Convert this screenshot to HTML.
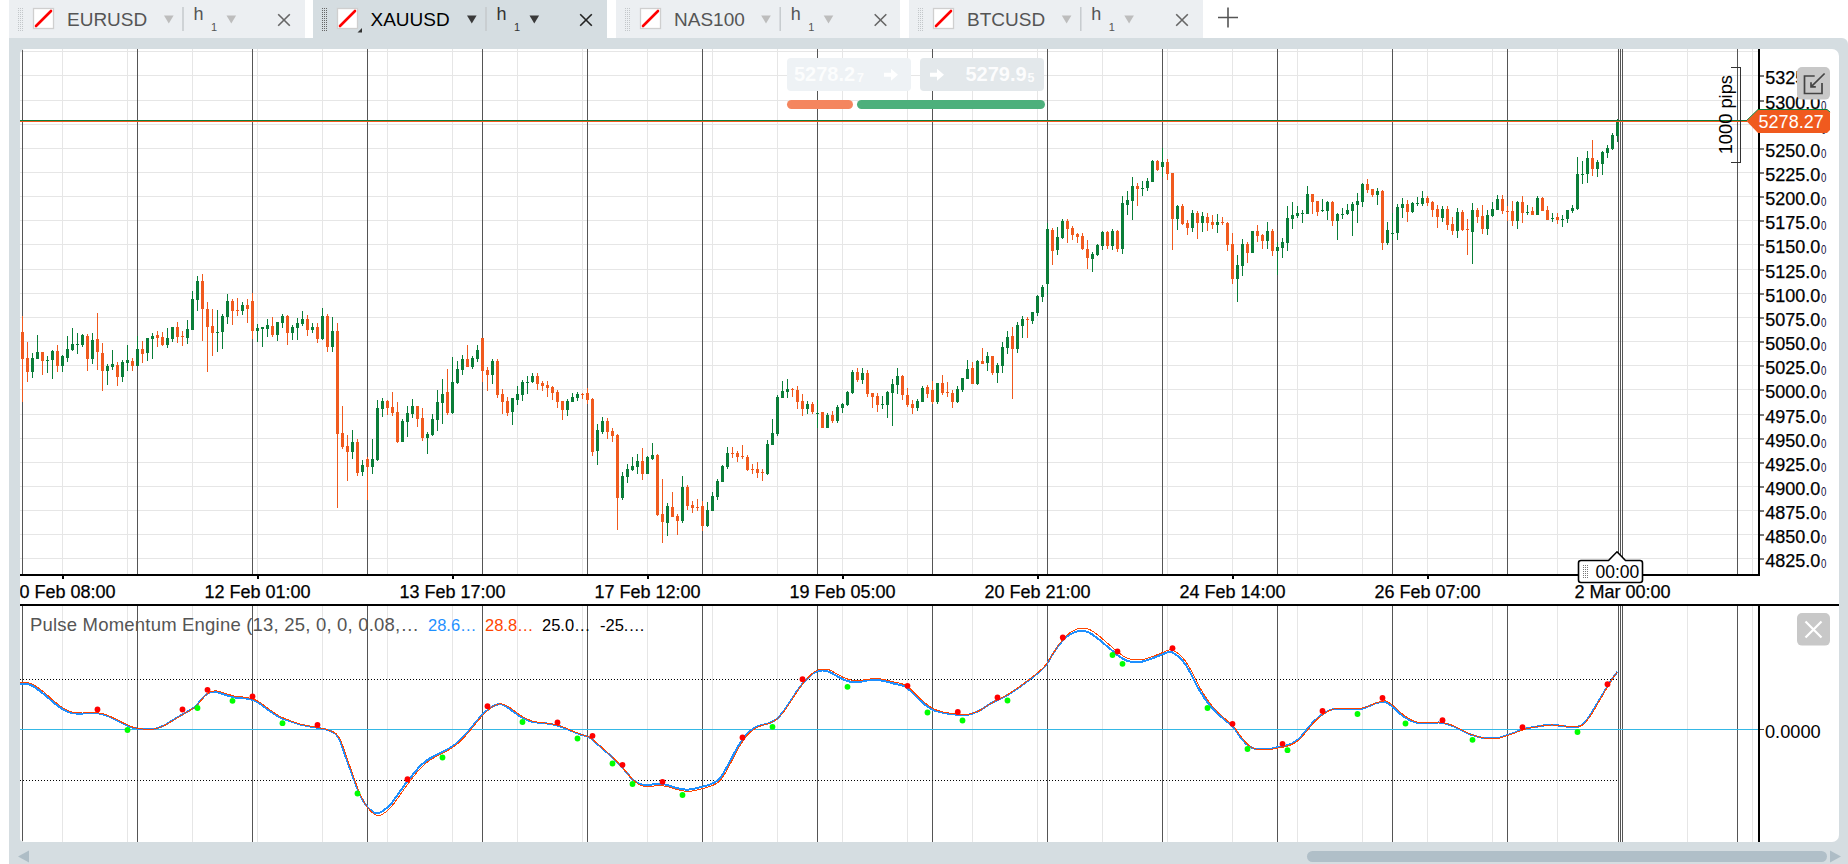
<!DOCTYPE html>
<html><head><meta charset="utf-8"><title>XAUUSD h1</title>
<style>
html,body{margin:0;padding:0;background:#fff;}
body{width:1848px;height:864px;position:relative;overflow:hidden;font-family:"Liberation Sans",sans-serif;}
.tab{position:absolute;top:0;height:38px;background:#eceff2;}
.tab.act{background:#d5dde1;}
.tab .t{position:absolute;top:7.5px;font-size:19px;line-height:24px;color:#555;white-space:nowrap;}
.tab.act .t{color:#000;}
.tab .h{position:absolute;top:3px;font-size:18px;line-height:22px;color:#555;}
.tab .s{position:absolute;top:19px;font-size:11px;line-height:14px;color:#555;}
.tab.act .h,.tab.act .s{color:#333;}
#wrap{position:absolute;left:9px;top:38px;width:1839px;height:826px;background:#d5dde1;border-top-right-radius:6px;}
#chart{position:absolute;left:20px;top:49px;width:1819px;height:793px;background:#fff;border-radius:5px 7px 7px 4px;}
svg{position:absolute;left:0;top:0;}
text{font-family:"Liberation Sans",sans-serif;}
</style></head><body>

<div id="wrap"></div><div id="chart"></div>
<div class="tab" style="left:9px;width:296px;"><span class="t" style="left:58px">EURUSD</span></div>
<div class="tab act" style="left:313px;width:294px;"><span class="t" style="left:57.5px">XAUUSD</span></div>
<div class="tab" style="left:616px;width:284px;"><span class="t" style="left:58px">NAS100</span></div>
<div class="tab" style="left:909px;width:294px;"><span class="t" style="left:58px">BTCUSD</span></div>
<svg width="1848" height="864" viewBox="0 0 1848 864">
<!--TABDECO-->
<rect x="18" y="8" width="1" height="1" fill="#c3c7ca"/><rect x="20" y="8" width="1" height="1" fill="#c3c7ca"/><rect x="22" y="8" width="1" height="1" fill="#c3c7ca"/><rect x="18" y="10" width="1" height="1" fill="#c3c7ca"/><rect x="20" y="10" width="1" height="1" fill="#c3c7ca"/><rect x="22" y="10" width="1" height="1" fill="#c3c7ca"/><rect x="18" y="12" width="1" height="1" fill="#c3c7ca"/><rect x="20" y="12" width="1" height="1" fill="#c3c7ca"/><rect x="22" y="12" width="1" height="1" fill="#c3c7ca"/><rect x="18" y="14" width="1" height="1" fill="#c3c7ca"/><rect x="20" y="14" width="1" height="1" fill="#c3c7ca"/><rect x="22" y="14" width="1" height="1" fill="#c3c7ca"/><rect x="18" y="16" width="1" height="1" fill="#c3c7ca"/><rect x="20" y="16" width="1" height="1" fill="#c3c7ca"/><rect x="22" y="16" width="1" height="1" fill="#c3c7ca"/><rect x="18" y="18" width="1" height="1" fill="#c3c7ca"/><rect x="20" y="18" width="1" height="1" fill="#c3c7ca"/><rect x="22" y="18" width="1" height="1" fill="#c3c7ca"/><rect x="18" y="20" width="1" height="1" fill="#c3c7ca"/><rect x="20" y="20" width="1" height="1" fill="#c3c7ca"/><rect x="22" y="20" width="1" height="1" fill="#c3c7ca"/><rect x="18" y="22" width="1" height="1" fill="#c3c7ca"/><rect x="20" y="22" width="1" height="1" fill="#c3c7ca"/><rect x="22" y="22" width="1" height="1" fill="#c3c7ca"/><rect x="18" y="24" width="1" height="1" fill="#c3c7ca"/><rect x="20" y="24" width="1" height="1" fill="#c3c7ca"/><rect x="22" y="24" width="1" height="1" fill="#c3c7ca"/><rect x="18" y="26" width="1" height="1" fill="#c3c7ca"/><rect x="20" y="26" width="1" height="1" fill="#c3c7ca"/><rect x="22" y="26" width="1" height="1" fill="#c3c7ca"/><rect x="18" y="28" width="1" height="1" fill="#c3c7ca"/><rect x="20" y="28" width="1" height="1" fill="#c3c7ca"/><rect x="22" y="28" width="1" height="1" fill="#c3c7ca"/><rect x="18" y="30" width="1" height="1" fill="#c3c7ca"/><rect x="20" y="30" width="1" height="1" fill="#c3c7ca"/><rect x="22" y="30" width="1" height="1" fill="#c3c7ca"/><rect x="33.5" y="8.5" width="20" height="20" fill="#fff" stroke="#cfcfcf" stroke-width="1.3"/><line x1="36" y1="26" x2="51" y2="11" stroke="#f00" stroke-width="2.6" stroke-linecap="round"/><path d="M164 15.5 h9.6 l-4.8 8z" fill="#bdbdbd"/><rect x="182.3" y="7" width="1.4" height="24" fill="#c4c8cb"/><path d="M226.5 15.5 h9.6 l-4.8 8z" fill="#bdbdbd"/><path d="M278.2 14.2 L289.8 25.8 M289.8 14.2 L278.2 25.8" stroke="#666" stroke-width="1.6" fill="none"/>
<text x="193.5" y="20" font-size="18" fill="#555">h</text>
<text x="211" y="31" font-size="11" fill="#555">1</text>
<rect x="322" y="8" width="1" height="1" fill="#666"/><rect x="324" y="8" width="1" height="1" fill="#666"/><rect x="326" y="8" width="1" height="1" fill="#666"/><rect x="322" y="10" width="1" height="1" fill="#666"/><rect x="324" y="10" width="1" height="1" fill="#666"/><rect x="326" y="10" width="1" height="1" fill="#666"/><rect x="322" y="12" width="1" height="1" fill="#666"/><rect x="324" y="12" width="1" height="1" fill="#666"/><rect x="326" y="12" width="1" height="1" fill="#666"/><rect x="322" y="14" width="1" height="1" fill="#666"/><rect x="324" y="14" width="1" height="1" fill="#666"/><rect x="326" y="14" width="1" height="1" fill="#666"/><rect x="322" y="16" width="1" height="1" fill="#666"/><rect x="324" y="16" width="1" height="1" fill="#666"/><rect x="326" y="16" width="1" height="1" fill="#666"/><rect x="322" y="18" width="1" height="1" fill="#666"/><rect x="324" y="18" width="1" height="1" fill="#666"/><rect x="326" y="18" width="1" height="1" fill="#666"/><rect x="322" y="20" width="1" height="1" fill="#666"/><rect x="324" y="20" width="1" height="1" fill="#666"/><rect x="326" y="20" width="1" height="1" fill="#666"/><rect x="322" y="22" width="1" height="1" fill="#666"/><rect x="324" y="22" width="1" height="1" fill="#666"/><rect x="326" y="22" width="1" height="1" fill="#666"/><rect x="322" y="24" width="1" height="1" fill="#666"/><rect x="324" y="24" width="1" height="1" fill="#666"/><rect x="326" y="24" width="1" height="1" fill="#666"/><rect x="322" y="26" width="1" height="1" fill="#666"/><rect x="324" y="26" width="1" height="1" fill="#666"/><rect x="326" y="26" width="1" height="1" fill="#666"/><rect x="322" y="28" width="1" height="1" fill="#666"/><rect x="324" y="28" width="1" height="1" fill="#666"/><rect x="326" y="28" width="1" height="1" fill="#666"/><rect x="322" y="30" width="1" height="1" fill="#666"/><rect x="324" y="30" width="1" height="1" fill="#666"/><rect x="326" y="30" width="1" height="1" fill="#666"/><rect x="337.5" y="8.5" width="20" height="20" fill="#fff" stroke="#cfcfcf" stroke-width="1.3"/><line x1="340" y1="26" x2="355" y2="11" stroke="#f00" stroke-width="2.6" stroke-linecap="round"/><path d="M362 32.5 v-4.5 l-4.5 4.5z" fill="#333"/><path d="M467 15.5 h9.6 l-4.8 8z" fill="#3a3a3a"/><rect x="485.3" y="7" width="1.4" height="24" fill="#c4c8cb"/><path d="M529.5 15.5 h9.6 l-4.8 8z" fill="#3a3a3a"/><path d="M580.2 14.2 L591.8 25.8 M591.8 14.2 L580.2 25.8" stroke="#222" stroke-width="1.6" fill="none"/>
<text x="496.5" y="20" font-size="18" fill="#333">h</text>
<text x="514" y="31" font-size="11" fill="#333">1</text>
<rect x="625" y="8" width="1" height="1" fill="#c3c7ca"/><rect x="627" y="8" width="1" height="1" fill="#c3c7ca"/><rect x="629" y="8" width="1" height="1" fill="#c3c7ca"/><rect x="625" y="10" width="1" height="1" fill="#c3c7ca"/><rect x="627" y="10" width="1" height="1" fill="#c3c7ca"/><rect x="629" y="10" width="1" height="1" fill="#c3c7ca"/><rect x="625" y="12" width="1" height="1" fill="#c3c7ca"/><rect x="627" y="12" width="1" height="1" fill="#c3c7ca"/><rect x="629" y="12" width="1" height="1" fill="#c3c7ca"/><rect x="625" y="14" width="1" height="1" fill="#c3c7ca"/><rect x="627" y="14" width="1" height="1" fill="#c3c7ca"/><rect x="629" y="14" width="1" height="1" fill="#c3c7ca"/><rect x="625" y="16" width="1" height="1" fill="#c3c7ca"/><rect x="627" y="16" width="1" height="1" fill="#c3c7ca"/><rect x="629" y="16" width="1" height="1" fill="#c3c7ca"/><rect x="625" y="18" width="1" height="1" fill="#c3c7ca"/><rect x="627" y="18" width="1" height="1" fill="#c3c7ca"/><rect x="629" y="18" width="1" height="1" fill="#c3c7ca"/><rect x="625" y="20" width="1" height="1" fill="#c3c7ca"/><rect x="627" y="20" width="1" height="1" fill="#c3c7ca"/><rect x="629" y="20" width="1" height="1" fill="#c3c7ca"/><rect x="625" y="22" width="1" height="1" fill="#c3c7ca"/><rect x="627" y="22" width="1" height="1" fill="#c3c7ca"/><rect x="629" y="22" width="1" height="1" fill="#c3c7ca"/><rect x="625" y="24" width="1" height="1" fill="#c3c7ca"/><rect x="627" y="24" width="1" height="1" fill="#c3c7ca"/><rect x="629" y="24" width="1" height="1" fill="#c3c7ca"/><rect x="625" y="26" width="1" height="1" fill="#c3c7ca"/><rect x="627" y="26" width="1" height="1" fill="#c3c7ca"/><rect x="629" y="26" width="1" height="1" fill="#c3c7ca"/><rect x="625" y="28" width="1" height="1" fill="#c3c7ca"/><rect x="627" y="28" width="1" height="1" fill="#c3c7ca"/><rect x="629" y="28" width="1" height="1" fill="#c3c7ca"/><rect x="625" y="30" width="1" height="1" fill="#c3c7ca"/><rect x="627" y="30" width="1" height="1" fill="#c3c7ca"/><rect x="629" y="30" width="1" height="1" fill="#c3c7ca"/><rect x="640.5" y="8.5" width="20" height="20" fill="#fff" stroke="#cfcfcf" stroke-width="1.3"/><line x1="643" y1="26" x2="658" y2="11" stroke="#f00" stroke-width="2.6" stroke-linecap="round"/><path d="M761.2 15.5 h9.6 l-4.8 8z" fill="#bdbdbd"/><rect x="779.5" y="7" width="1.4" height="24" fill="#c4c8cb"/><path d="M823.7 15.5 h9.6 l-4.8 8z" fill="#bdbdbd"/><path d="M874.7 14.2 L886.3 25.8 M886.3 14.2 L874.7 25.8" stroke="#666" stroke-width="1.6" fill="none"/>
<text x="790.7" y="20" font-size="18" fill="#555">h</text>
<text x="808.2" y="31" font-size="11" fill="#555">1</text>
<rect x="918" y="8" width="1" height="1" fill="#c3c7ca"/><rect x="920" y="8" width="1" height="1" fill="#c3c7ca"/><rect x="922" y="8" width="1" height="1" fill="#c3c7ca"/><rect x="918" y="10" width="1" height="1" fill="#c3c7ca"/><rect x="920" y="10" width="1" height="1" fill="#c3c7ca"/><rect x="922" y="10" width="1" height="1" fill="#c3c7ca"/><rect x="918" y="12" width="1" height="1" fill="#c3c7ca"/><rect x="920" y="12" width="1" height="1" fill="#c3c7ca"/><rect x="922" y="12" width="1" height="1" fill="#c3c7ca"/><rect x="918" y="14" width="1" height="1" fill="#c3c7ca"/><rect x="920" y="14" width="1" height="1" fill="#c3c7ca"/><rect x="922" y="14" width="1" height="1" fill="#c3c7ca"/><rect x="918" y="16" width="1" height="1" fill="#c3c7ca"/><rect x="920" y="16" width="1" height="1" fill="#c3c7ca"/><rect x="922" y="16" width="1" height="1" fill="#c3c7ca"/><rect x="918" y="18" width="1" height="1" fill="#c3c7ca"/><rect x="920" y="18" width="1" height="1" fill="#c3c7ca"/><rect x="922" y="18" width="1" height="1" fill="#c3c7ca"/><rect x="918" y="20" width="1" height="1" fill="#c3c7ca"/><rect x="920" y="20" width="1" height="1" fill="#c3c7ca"/><rect x="922" y="20" width="1" height="1" fill="#c3c7ca"/><rect x="918" y="22" width="1" height="1" fill="#c3c7ca"/><rect x="920" y="22" width="1" height="1" fill="#c3c7ca"/><rect x="922" y="22" width="1" height="1" fill="#c3c7ca"/><rect x="918" y="24" width="1" height="1" fill="#c3c7ca"/><rect x="920" y="24" width="1" height="1" fill="#c3c7ca"/><rect x="922" y="24" width="1" height="1" fill="#c3c7ca"/><rect x="918" y="26" width="1" height="1" fill="#c3c7ca"/><rect x="920" y="26" width="1" height="1" fill="#c3c7ca"/><rect x="922" y="26" width="1" height="1" fill="#c3c7ca"/><rect x="918" y="28" width="1" height="1" fill="#c3c7ca"/><rect x="920" y="28" width="1" height="1" fill="#c3c7ca"/><rect x="922" y="28" width="1" height="1" fill="#c3c7ca"/><rect x="918" y="30" width="1" height="1" fill="#c3c7ca"/><rect x="920" y="30" width="1" height="1" fill="#c3c7ca"/><rect x="922" y="30" width="1" height="1" fill="#c3c7ca"/><rect x="933.5" y="8.5" width="20" height="20" fill="#fff" stroke="#cfcfcf" stroke-width="1.3"/><line x1="936" y1="26" x2="951" y2="11" stroke="#f00" stroke-width="2.6" stroke-linecap="round"/><path d="M1061.8 15.5 h9.6 l-4.8 8z" fill="#bdbdbd"/><rect x="1080.1" y="7" width="1.4" height="24" fill="#c4c8cb"/><path d="M1124.3 15.5 h9.6 l-4.8 8z" fill="#bdbdbd"/><path d="M1176.2 14.2 L1187.8 25.8 M1187.8 14.2 L1176.2 25.8" stroke="#666" stroke-width="1.6" fill="none"/>
<text x="1091.3" y="20" font-size="18" fill="#555">h</text>
<text x="1108.8" y="31" font-size="11" fill="#555">1</text>
<path d="M1218 17.5 h20 M1228 7.5 v20" stroke="#555" stroke-width="1.6" fill="none"/>
<defs><clipPath id="cc"><rect x="20" y="49" width="1819" height="793" rx="5.5"/></clipPath></defs>
<g shape-rendering="crispEdges" clip-path="url(#cc)">
<line x1="20" x2="1758" y1="51.5" y2="51.5" stroke="#e6e6e6"/>
<line x1="20" x2="1758" y1="75.5" y2="75.5" stroke="#e6e6e6"/>
<line x1="20" x2="1758" y1="100.5" y2="100.5" stroke="#e6e6e6"/>
<line x1="20" x2="1758" y1="124.5" y2="124.5" stroke="#e6e6e6"/>
<line x1="20" x2="1758" y1="148.5" y2="148.5" stroke="#e6e6e6"/>
<line x1="20" x2="1758" y1="172.5" y2="172.5" stroke="#e6e6e6"/>
<line x1="20" x2="1758" y1="196.5" y2="196.5" stroke="#e6e6e6"/>
<line x1="20" x2="1758" y1="220.5" y2="220.5" stroke="#e6e6e6"/>
<line x1="20" x2="1758" y1="244.5" y2="244.5" stroke="#e6e6e6"/>
<line x1="20" x2="1758" y1="269.5" y2="269.5" stroke="#e6e6e6"/>
<line x1="20" x2="1758" y1="293.5" y2="293.5" stroke="#e6e6e6"/>
<line x1="20" x2="1758" y1="317.5" y2="317.5" stroke="#e6e6e6"/>
<line x1="20" x2="1758" y1="341.5" y2="341.5" stroke="#e6e6e6"/>
<line x1="20" x2="1758" y1="365.5" y2="365.5" stroke="#e6e6e6"/>
<line x1="20" x2="1758" y1="389.5" y2="389.5" stroke="#e6e6e6"/>
<line x1="20" x2="1758" y1="414.5" y2="414.5" stroke="#e6e6e6"/>
<line x1="20" x2="1758" y1="438.5" y2="438.5" stroke="#e6e6e6"/>
<line x1="20" x2="1758" y1="462.5" y2="462.5" stroke="#e6e6e6"/>
<line x1="20" x2="1758" y1="486.5" y2="486.5" stroke="#e6e6e6"/>
<line x1="20" x2="1758" y1="510.5" y2="510.5" stroke="#e6e6e6"/>
<line x1="20" x2="1758" y1="534.5" y2="534.5" stroke="#e6e6e6"/>
<line x1="20" x2="1758" y1="558.5" y2="558.5" stroke="#e6e6e6"/>
<line x1="62.5" x2="62.5" y1="49" y2="574" stroke="#e6e6e6"/>
<line x1="62.5" x2="62.5" y1="606" y2="842" stroke="#e6e6e6"/>
<line x1="127.5" x2="127.5" y1="49" y2="574" stroke="#e6e6e6"/>
<line x1="127.5" x2="127.5" y1="606" y2="842" stroke="#e6e6e6"/>
<line x1="192.5" x2="192.5" y1="49" y2="574" stroke="#e6e6e6"/>
<line x1="192.5" x2="192.5" y1="606" y2="842" stroke="#e6e6e6"/>
<line x1="257.5" x2="257.5" y1="49" y2="574" stroke="#e6e6e6"/>
<line x1="257.5" x2="257.5" y1="606" y2="842" stroke="#e6e6e6"/>
<line x1="322.5" x2="322.5" y1="49" y2="574" stroke="#e6e6e6"/>
<line x1="322.5" x2="322.5" y1="606" y2="842" stroke="#e6e6e6"/>
<line x1="387.5" x2="387.5" y1="49" y2="574" stroke="#e6e6e6"/>
<line x1="387.5" x2="387.5" y1="606" y2="842" stroke="#e6e6e6"/>
<line x1="452.5" x2="452.5" y1="49" y2="574" stroke="#e6e6e6"/>
<line x1="452.5" x2="452.5" y1="606" y2="842" stroke="#e6e6e6"/>
<line x1="517.5" x2="517.5" y1="49" y2="574" stroke="#e6e6e6"/>
<line x1="517.5" x2="517.5" y1="606" y2="842" stroke="#e6e6e6"/>
<line x1="582.5" x2="582.5" y1="49" y2="574" stroke="#e6e6e6"/>
<line x1="582.5" x2="582.5" y1="606" y2="842" stroke="#e6e6e6"/>
<line x1="647.5" x2="647.5" y1="49" y2="574" stroke="#e6e6e6"/>
<line x1="647.5" x2="647.5" y1="606" y2="842" stroke="#e6e6e6"/>
<line x1="712.5" x2="712.5" y1="49" y2="574" stroke="#e6e6e6"/>
<line x1="712.5" x2="712.5" y1="606" y2="842" stroke="#e6e6e6"/>
<line x1="777.5" x2="777.5" y1="49" y2="574" stroke="#e6e6e6"/>
<line x1="777.5" x2="777.5" y1="606" y2="842" stroke="#e6e6e6"/>
<line x1="842.5" x2="842.5" y1="49" y2="574" stroke="#e6e6e6"/>
<line x1="842.5" x2="842.5" y1="606" y2="842" stroke="#e6e6e6"/>
<line x1="907.5" x2="907.5" y1="49" y2="574" stroke="#e6e6e6"/>
<line x1="907.5" x2="907.5" y1="606" y2="842" stroke="#e6e6e6"/>
<line x1="972.5" x2="972.5" y1="49" y2="574" stroke="#e6e6e6"/>
<line x1="972.5" x2="972.5" y1="606" y2="842" stroke="#e6e6e6"/>
<line x1="1037.5" x2="1037.5" y1="49" y2="574" stroke="#e6e6e6"/>
<line x1="1037.5" x2="1037.5" y1="606" y2="842" stroke="#e6e6e6"/>
<line x1="1102.5" x2="1102.5" y1="49" y2="574" stroke="#e6e6e6"/>
<line x1="1102.5" x2="1102.5" y1="606" y2="842" stroke="#e6e6e6"/>
<line x1="1167.5" x2="1167.5" y1="49" y2="574" stroke="#e6e6e6"/>
<line x1="1167.5" x2="1167.5" y1="606" y2="842" stroke="#e6e6e6"/>
<line x1="1232.5" x2="1232.5" y1="49" y2="574" stroke="#e6e6e6"/>
<line x1="1232.5" x2="1232.5" y1="606" y2="842" stroke="#e6e6e6"/>
<line x1="1297.5" x2="1297.5" y1="49" y2="574" stroke="#e6e6e6"/>
<line x1="1297.5" x2="1297.5" y1="606" y2="842" stroke="#e6e6e6"/>
<line x1="1362.5" x2="1362.5" y1="49" y2="574" stroke="#e6e6e6"/>
<line x1="1362.5" x2="1362.5" y1="606" y2="842" stroke="#e6e6e6"/>
<line x1="1427.5" x2="1427.5" y1="49" y2="574" stroke="#e6e6e6"/>
<line x1="1427.5" x2="1427.5" y1="606" y2="842" stroke="#e6e6e6"/>
<line x1="1492.5" x2="1492.5" y1="49" y2="574" stroke="#e6e6e6"/>
<line x1="1492.5" x2="1492.5" y1="606" y2="842" stroke="#e6e6e6"/>
<line x1="1557.5" x2="1557.5" y1="49" y2="574" stroke="#e6e6e6"/>
<line x1="1557.5" x2="1557.5" y1="606" y2="842" stroke="#e6e6e6"/>
<line x1="1622.5" x2="1622.5" y1="49" y2="574" stroke="#e6e6e6"/>
<line x1="1622.5" x2="1622.5" y1="606" y2="842" stroke="#e6e6e6"/>
<line x1="1687.5" x2="1687.5" y1="49" y2="574" stroke="#e6e6e6"/>
<line x1="1687.5" x2="1687.5" y1="606" y2="842" stroke="#e6e6e6"/>
<line x1="1752.5" x2="1752.5" y1="49" y2="574" stroke="#e6e6e6"/>
<line x1="1752.5" x2="1752.5" y1="606" y2="842" stroke="#e6e6e6"/>
<line x1="22.5" x2="22.5" y1="49" y2="574" stroke="#555555"/>
<line x1="22.5" x2="22.5" y1="606" y2="842" stroke="#555555"/>
<line x1="137.5" x2="137.5" y1="49" y2="574" stroke="#555555"/>
<line x1="137.5" x2="137.5" y1="606" y2="842" stroke="#555555"/>
<line x1="252.5" x2="252.5" y1="49" y2="574" stroke="#555555"/>
<line x1="252.5" x2="252.5" y1="606" y2="842" stroke="#555555"/>
<line x1="367.5" x2="367.5" y1="49" y2="574" stroke="#555555"/>
<line x1="367.5" x2="367.5" y1="606" y2="842" stroke="#555555"/>
<line x1="482.5" x2="482.5" y1="49" y2="574" stroke="#555555"/>
<line x1="482.5" x2="482.5" y1="606" y2="842" stroke="#555555"/>
<line x1="587.5" x2="587.5" y1="49" y2="574" stroke="#555555"/>
<line x1="587.5" x2="587.5" y1="606" y2="842" stroke="#555555"/>
<line x1="702.5" x2="702.5" y1="49" y2="574" stroke="#555555"/>
<line x1="702.5" x2="702.5" y1="606" y2="842" stroke="#555555"/>
<line x1="817.5" x2="817.5" y1="49" y2="574" stroke="#555555"/>
<line x1="817.5" x2="817.5" y1="606" y2="842" stroke="#555555"/>
<line x1="932.5" x2="932.5" y1="49" y2="574" stroke="#555555"/>
<line x1="932.5" x2="932.5" y1="606" y2="842" stroke="#555555"/>
<line x1="1047.5" x2="1047.5" y1="49" y2="574" stroke="#555555"/>
<line x1="1047.5" x2="1047.5" y1="606" y2="842" stroke="#555555"/>
<line x1="1162.5" x2="1162.5" y1="49" y2="574" stroke="#555555"/>
<line x1="1162.5" x2="1162.5" y1="606" y2="842" stroke="#555555"/>
<line x1="1277.5" x2="1277.5" y1="49" y2="574" stroke="#555555"/>
<line x1="1277.5" x2="1277.5" y1="606" y2="842" stroke="#555555"/>
<line x1="1392.5" x2="1392.5" y1="49" y2="574" stroke="#555555"/>
<line x1="1392.5" x2="1392.5" y1="606" y2="842" stroke="#555555"/>
<line x1="1507.5" x2="1507.5" y1="49" y2="574" stroke="#555555"/>
<line x1="1507.5" x2="1507.5" y1="606" y2="842" stroke="#555555"/>
<line x1="1737.5" x2="1737.5" y1="49" y2="574" stroke="#555555"/>
<line x1="1737.5" x2="1737.5" y1="606" y2="842" stroke="#555555"/>
<line x1="1618.5" x2="1618.5" y1="49" y2="574" stroke="#555555"/>
<line x1="1618.5" x2="1618.5" y1="606" y2="842" stroke="#555555"/>
<line x1="1620.5" x2="1620.5" y1="49" y2="574" stroke="#555555"/>
<line x1="1620.5" x2="1620.5" y1="606" y2="842" stroke="#555555"/>
<line x1="1622.5" x2="1622.5" y1="49" y2="574" stroke="#555555"/>
<line x1="1622.5" x2="1622.5" y1="606" y2="842" stroke="#555555"/>
<rect x="1760" y="75" width="3.5" height="1.5" fill="#777"/>
<rect x="1760" y="100" width="3.5" height="1.5" fill="#777"/>
<rect x="1760" y="124" width="3.5" height="1.5" fill="#777"/>
<rect x="1760" y="148" width="3.5" height="1.5" fill="#777"/>
<rect x="1760" y="172" width="3.5" height="1.5" fill="#777"/>
<rect x="1760" y="196" width="3.5" height="1.5" fill="#777"/>
<rect x="1760" y="220" width="3.5" height="1.5" fill="#777"/>
<rect x="1760" y="244" width="3.5" height="1.5" fill="#777"/>
<rect x="1760" y="269" width="3.5" height="1.5" fill="#777"/>
<rect x="1760" y="293" width="3.5" height="1.5" fill="#777"/>
<rect x="1760" y="317" width="3.5" height="1.5" fill="#777"/>
<rect x="1760" y="341" width="3.5" height="1.5" fill="#777"/>
<rect x="1760" y="365" width="3.5" height="1.5" fill="#777"/>
<rect x="1760" y="389" width="3.5" height="1.5" fill="#777"/>
<rect x="1760" y="414" width="3.5" height="1.5" fill="#777"/>
<rect x="1760" y="438" width="3.5" height="1.5" fill="#777"/>
<rect x="1760" y="462" width="3.5" height="1.5" fill="#777"/>
<rect x="1760" y="486" width="3.5" height="1.5" fill="#777"/>
<rect x="1760" y="510" width="3.5" height="1.5" fill="#777"/>
<rect x="1760" y="534" width="3.5" height="1.5" fill="#777"/>
<rect x="1760" y="558" width="3.5" height="1.5" fill="#777"/>
<line x1="20" x2="1617" y1="679.5" y2="679.5" stroke="#000" stroke-dasharray="1 2"/>
<line x1="20" x2="1617" y1="780.5" y2="780.5" stroke="#000" stroke-dasharray="1 2"/>
<line x1="20" x2="1758" y1="729.5" y2="729.5" stroke="#35b8e6"/>
<line x1="1760" x2="1764" y1="729.5" y2="729.5" stroke="#444"/>
<rect x="22" y="316" width="1" height="86" fill="#f05a1e"/>
<rect x="21" y="332" width="3" height="27" fill="#f05a1e"/>
<rect x="27" y="342" width="1" height="40" fill="#f05a1e"/>
<rect x="26" y="358" width="3" height="14" fill="#f05a1e"/>
<rect x="32" y="353" width="1" height="25" fill="#0a7d38"/>
<rect x="31" y="358" width="3" height="14" fill="#0a7d38"/>
<rect x="37" y="335" width="1" height="24" fill="#0a7d38"/>
<rect x="36" y="352" width="3" height="7" fill="#0a7d38"/>
<rect x="42" y="352" width="1" height="23" fill="#f05a1e"/>
<rect x="41" y="352" width="3" height="9" fill="#f05a1e"/>
<rect x="47" y="356" width="1" height="17" fill="#0a7d38"/>
<rect x="46" y="360" width="3" height="1" fill="#0a7d38"/>
<rect x="52" y="350" width="1" height="29" fill="#0a7d38"/>
<rect x="51" y="351" width="3" height="9" fill="#0a7d38"/>
<rect x="57" y="345" width="1" height="27" fill="#f05a1e"/>
<rect x="56" y="351" width="3" height="15" fill="#f05a1e"/>
<rect x="62" y="355" width="1" height="17" fill="#0a7d38"/>
<rect x="61" y="356" width="3" height="10" fill="#0a7d38"/>
<rect x="67" y="336" width="1" height="26" fill="#0a7d38"/>
<rect x="66" y="349" width="3" height="9" fill="#0a7d38"/>
<rect x="72" y="328" width="1" height="23" fill="#0a7d38"/>
<rect x="71" y="344" width="3" height="6" fill="#0a7d38"/>
<rect x="77" y="333" width="1" height="21" fill="#0a7d38"/>
<rect x="76" y="344" width="3" height="1" fill="#0a7d38"/>
<rect x="82" y="334" width="1" height="13" fill="#0a7d38"/>
<rect x="81" y="335" width="3" height="10" fill="#0a7d38"/>
<rect x="87" y="334" width="1" height="37" fill="#f05a1e"/>
<rect x="86" y="336" width="3" height="23" fill="#f05a1e"/>
<rect x="92" y="333" width="1" height="31" fill="#0a7d38"/>
<rect x="91" y="340" width="3" height="19" fill="#0a7d38"/>
<rect x="97" y="313" width="1" height="57" fill="#f05a1e"/>
<rect x="96" y="339" width="3" height="13" fill="#f05a1e"/>
<rect x="102" y="343" width="1" height="48" fill="#f05a1e"/>
<rect x="101" y="353" width="3" height="18" fill="#f05a1e"/>
<rect x="107" y="364" width="1" height="21" fill="#0a7d38"/>
<rect x="106" y="366" width="3" height="5" fill="#0a7d38"/>
<rect x="112" y="350" width="1" height="20" fill="#0a7d38"/>
<rect x="111" y="364" width="3" height="3" fill="#0a7d38"/>
<rect x="117" y="362" width="1" height="24" fill="#f05a1e"/>
<rect x="116" y="365" width="3" height="12" fill="#f05a1e"/>
<rect x="122" y="360" width="1" height="22" fill="#0a7d38"/>
<rect x="121" y="362" width="3" height="15" fill="#0a7d38"/>
<rect x="127" y="345" width="1" height="26" fill="#0a7d38"/>
<rect x="126" y="360" width="3" height="3" fill="#0a7d38"/>
<rect x="132" y="358" width="1" height="13" fill="#f05a1e"/>
<rect x="131" y="361" width="3" height="5" fill="#f05a1e"/>
<rect x="137" y="336" width="1" height="30" fill="#0a7d38"/>
<rect x="136" y="349" width="3" height="17" fill="#0a7d38"/>
<rect x="142" y="341" width="1" height="22" fill="#f05a1e"/>
<rect x="141" y="349" width="3" height="5" fill="#f05a1e"/>
<rect x="147" y="338" width="1" height="23" fill="#0a7d38"/>
<rect x="146" y="338" width="3" height="15" fill="#0a7d38"/>
<rect x="152" y="333" width="1" height="26" fill="#0a7d38"/>
<rect x="151" y="336" width="3" height="3" fill="#0a7d38"/>
<rect x="157" y="331" width="1" height="16" fill="#f05a1e"/>
<rect x="156" y="335" width="3" height="3" fill="#f05a1e"/>
<rect x="162" y="332" width="1" height="14" fill="#f05a1e"/>
<rect x="161" y="337" width="3" height="8" fill="#f05a1e"/>
<rect x="167" y="328" width="1" height="20" fill="#0a7d38"/>
<rect x="166" y="338" width="3" height="7" fill="#0a7d38"/>
<rect x="172" y="327" width="1" height="15" fill="#0a7d38"/>
<rect x="171" y="327" width="3" height="12" fill="#0a7d38"/>
<rect x="177" y="322" width="1" height="21" fill="#f05a1e"/>
<rect x="176" y="327" width="3" height="10" fill="#f05a1e"/>
<rect x="182" y="331" width="1" height="15" fill="#f05a1e"/>
<rect x="181" y="336" width="3" height="1" fill="#f05a1e"/>
<rect x="187" y="320" width="1" height="24" fill="#0a7d38"/>
<rect x="186" y="329" width="3" height="9" fill="#0a7d38"/>
<rect x="192" y="291" width="1" height="39" fill="#0a7d38"/>
<rect x="191" y="299" width="3" height="31" fill="#0a7d38"/>
<rect x="197" y="276" width="1" height="35" fill="#0a7d38"/>
<rect x="196" y="281" width="3" height="19" fill="#0a7d38"/>
<rect x="202" y="274" width="1" height="67" fill="#f05a1e"/>
<rect x="201" y="281" width="3" height="28" fill="#f05a1e"/>
<rect x="207" y="302" width="1" height="70" fill="#f05a1e"/>
<rect x="206" y="309" width="3" height="18" fill="#f05a1e"/>
<rect x="212" y="309" width="1" height="47" fill="#f05a1e"/>
<rect x="211" y="326" width="3" height="7" fill="#f05a1e"/>
<rect x="217" y="310" width="1" height="42" fill="#0a7d38"/>
<rect x="216" y="332" width="3" height="1" fill="#0a7d38"/>
<rect x="222" y="314" width="1" height="35" fill="#0a7d38"/>
<rect x="221" y="316" width="3" height="16" fill="#0a7d38"/>
<rect x="227" y="294" width="1" height="30" fill="#0a7d38"/>
<rect x="226" y="301" width="3" height="16" fill="#0a7d38"/>
<rect x="232" y="299" width="1" height="26" fill="#f05a1e"/>
<rect x="231" y="301" width="3" height="10" fill="#f05a1e"/>
<rect x="237" y="298" width="1" height="18" fill="#f05a1e"/>
<rect x="236" y="310" width="3" height="1" fill="#f05a1e"/>
<rect x="242" y="302" width="1" height="13" fill="#0a7d38"/>
<rect x="241" y="305" width="3" height="6" fill="#0a7d38"/>
<rect x="247" y="299" width="1" height="24" fill="#f05a1e"/>
<rect x="246" y="305" width="3" height="4" fill="#f05a1e"/>
<rect x="252" y="293" width="1" height="46" fill="#f05a1e"/>
<rect x="251" y="301" width="3" height="30" fill="#f05a1e"/>
<rect x="257" y="324" width="1" height="18" fill="#0a7d38"/>
<rect x="256" y="328" width="3" height="3" fill="#0a7d38"/>
<rect x="262" y="327" width="1" height="20" fill="#0a7d38"/>
<rect x="261" y="327" width="3" height="2" fill="#0a7d38"/>
<rect x="267" y="319" width="1" height="18" fill="#0a7d38"/>
<rect x="266" y="325" width="3" height="4" fill="#0a7d38"/>
<rect x="272" y="317" width="1" height="20" fill="#f05a1e"/>
<rect x="271" y="326" width="3" height="9" fill="#f05a1e"/>
<rect x="277" y="322" width="1" height="19" fill="#0a7d38"/>
<rect x="276" y="322" width="3" height="13" fill="#0a7d38"/>
<rect x="282" y="314" width="1" height="14" fill="#0a7d38"/>
<rect x="281" y="316" width="3" height="7" fill="#0a7d38"/>
<rect x="287" y="315" width="1" height="30" fill="#f05a1e"/>
<rect x="286" y="316" width="3" height="17" fill="#f05a1e"/>
<rect x="292" y="325" width="1" height="15" fill="#0a7d38"/>
<rect x="291" y="327" width="3" height="6" fill="#0a7d38"/>
<rect x="297" y="318" width="1" height="22" fill="#0a7d38"/>
<rect x="296" y="323" width="3" height="5" fill="#0a7d38"/>
<rect x="302" y="311" width="1" height="15" fill="#0a7d38"/>
<rect x="301" y="319" width="3" height="5" fill="#0a7d38"/>
<rect x="307" y="315" width="1" height="21" fill="#f05a1e"/>
<rect x="306" y="319" width="3" height="11" fill="#f05a1e"/>
<rect x="312" y="323" width="1" height="10" fill="#0a7d38"/>
<rect x="311" y="327" width="3" height="3" fill="#0a7d38"/>
<rect x="317" y="323" width="1" height="20" fill="#f05a1e"/>
<rect x="316" y="327" width="3" height="12" fill="#f05a1e"/>
<rect x="322" y="308" width="1" height="32" fill="#0a7d38"/>
<rect x="321" y="316" width="3" height="23" fill="#0a7d38"/>
<rect x="327" y="314" width="1" height="38" fill="#f05a1e"/>
<rect x="326" y="316" width="3" height="31" fill="#f05a1e"/>
<rect x="332" y="317" width="1" height="35" fill="#0a7d38"/>
<rect x="331" y="331" width="3" height="16" fill="#0a7d38"/>
<rect x="337" y="323" width="1" height="185" fill="#f05a1e"/>
<rect x="336" y="331" width="3" height="103" fill="#f05a1e"/>
<rect x="342" y="406" width="1" height="43" fill="#f05a1e"/>
<rect x="341" y="433" width="3" height="14" fill="#f05a1e"/>
<rect x="347" y="435" width="1" height="46" fill="#f05a1e"/>
<rect x="346" y="446" width="3" height="6" fill="#f05a1e"/>
<rect x="352" y="430" width="1" height="29" fill="#0a7d38"/>
<rect x="351" y="442" width="3" height="10" fill="#0a7d38"/>
<rect x="357" y="439" width="1" height="37" fill="#f05a1e"/>
<rect x="356" y="442" width="3" height="31" fill="#f05a1e"/>
<rect x="362" y="460" width="1" height="16" fill="#0a7d38"/>
<rect x="361" y="465" width="3" height="7" fill="#0a7d38"/>
<rect x="367" y="457" width="1" height="43" fill="#f05a1e"/>
<rect x="366" y="459" width="3" height="8" fill="#f05a1e"/>
<rect x="372" y="439" width="1" height="35" fill="#0a7d38"/>
<rect x="371" y="459" width="3" height="8" fill="#0a7d38"/>
<rect x="377" y="400" width="1" height="61" fill="#0a7d38"/>
<rect x="376" y="408" width="3" height="52" fill="#0a7d38"/>
<rect x="382" y="398" width="1" height="19" fill="#0a7d38"/>
<rect x="381" y="401" width="3" height="8" fill="#0a7d38"/>
<rect x="387" y="400" width="1" height="15" fill="#f05a1e"/>
<rect x="386" y="401" width="3" height="7" fill="#f05a1e"/>
<rect x="392" y="392" width="1" height="24" fill="#f05a1e"/>
<rect x="391" y="407" width="3" height="6" fill="#f05a1e"/>
<rect x="397" y="402" width="1" height="41" fill="#f05a1e"/>
<rect x="396" y="412" width="3" height="30" fill="#f05a1e"/>
<rect x="402" y="419" width="1" height="23" fill="#0a7d38"/>
<rect x="401" y="421" width="3" height="21" fill="#0a7d38"/>
<rect x="407" y="406" width="1" height="31" fill="#0a7d38"/>
<rect x="406" y="413" width="3" height="9" fill="#0a7d38"/>
<rect x="412" y="399" width="1" height="19" fill="#0a7d38"/>
<rect x="411" y="406" width="3" height="8" fill="#0a7d38"/>
<rect x="417" y="406" width="1" height="21" fill="#f05a1e"/>
<rect x="416" y="406" width="3" height="13" fill="#f05a1e"/>
<rect x="422" y="408" width="1" height="33" fill="#f05a1e"/>
<rect x="421" y="418" width="3" height="20" fill="#f05a1e"/>
<rect x="427" y="432" width="1" height="22" fill="#0a7d38"/>
<rect x="426" y="434" width="3" height="4" fill="#0a7d38"/>
<rect x="432" y="414" width="1" height="22" fill="#0a7d38"/>
<rect x="431" y="419" width="3" height="16" fill="#0a7d38"/>
<rect x="437" y="390" width="1" height="41" fill="#0a7d38"/>
<rect x="436" y="402" width="3" height="18" fill="#0a7d38"/>
<rect x="442" y="379" width="1" height="45" fill="#0a7d38"/>
<rect x="441" y="394" width="3" height="9" fill="#0a7d38"/>
<rect x="447" y="369" width="1" height="46" fill="#f05a1e"/>
<rect x="446" y="392" width="3" height="21" fill="#f05a1e"/>
<rect x="452" y="357" width="1" height="57" fill="#0a7d38"/>
<rect x="451" y="382" width="3" height="31" fill="#0a7d38"/>
<rect x="457" y="361" width="1" height="23" fill="#0a7d38"/>
<rect x="456" y="369" width="3" height="14" fill="#0a7d38"/>
<rect x="462" y="355" width="1" height="20" fill="#0a7d38"/>
<rect x="461" y="359" width="3" height="11" fill="#0a7d38"/>
<rect x="467" y="345" width="1" height="22" fill="#f05a1e"/>
<rect x="466" y="359" width="3" height="8" fill="#f05a1e"/>
<rect x="472" y="356" width="1" height="13" fill="#0a7d38"/>
<rect x="471" y="358" width="3" height="9" fill="#0a7d38"/>
<rect x="477" y="345" width="1" height="17" fill="#0a7d38"/>
<rect x="476" y="350" width="3" height="9" fill="#0a7d38"/>
<rect x="482" y="338" width="1" height="44" fill="#f05a1e"/>
<rect x="481" y="338" width="3" height="33" fill="#f05a1e"/>
<rect x="487" y="367" width="1" height="24" fill="#f05a1e"/>
<rect x="486" y="370" width="3" height="5" fill="#f05a1e"/>
<rect x="492" y="359" width="1" height="25" fill="#0a7d38"/>
<rect x="491" y="361" width="3" height="14" fill="#0a7d38"/>
<rect x="497" y="359" width="1" height="39" fill="#f05a1e"/>
<rect x="496" y="361" width="3" height="34" fill="#f05a1e"/>
<rect x="502" y="389" width="1" height="25" fill="#f05a1e"/>
<rect x="501" y="394" width="3" height="8" fill="#f05a1e"/>
<rect x="507" y="397" width="1" height="19" fill="#f05a1e"/>
<rect x="506" y="401" width="3" height="12" fill="#f05a1e"/>
<rect x="512" y="398" width="1" height="27" fill="#0a7d38"/>
<rect x="511" y="398" width="3" height="14" fill="#0a7d38"/>
<rect x="517" y="386" width="1" height="19" fill="#0a7d38"/>
<rect x="516" y="394" width="3" height="6" fill="#0a7d38"/>
<rect x="522" y="380" width="1" height="21" fill="#0a7d38"/>
<rect x="521" y="382" width="3" height="13" fill="#0a7d38"/>
<rect x="527" y="376" width="1" height="18" fill="#0a7d38"/>
<rect x="526" y="382" width="3" height="1" fill="#0a7d38"/>
<rect x="532" y="373" width="1" height="10" fill="#0a7d38"/>
<rect x="531" y="376" width="3" height="6" fill="#0a7d38"/>
<rect x="537" y="373" width="1" height="17" fill="#f05a1e"/>
<rect x="536" y="376" width="3" height="8" fill="#f05a1e"/>
<rect x="542" y="381" width="1" height="10" fill="#f05a1e"/>
<rect x="541" y="383" width="3" height="3" fill="#f05a1e"/>
<rect x="547" y="381" width="1" height="16" fill="#f05a1e"/>
<rect x="546" y="385" width="3" height="3" fill="#f05a1e"/>
<rect x="552" y="386" width="1" height="14" fill="#f05a1e"/>
<rect x="551" y="387" width="3" height="6" fill="#f05a1e"/>
<rect x="557" y="390" width="1" height="18" fill="#f05a1e"/>
<rect x="556" y="392" width="3" height="10" fill="#f05a1e"/>
<rect x="562" y="401" width="1" height="19" fill="#f05a1e"/>
<rect x="561" y="401" width="3" height="9" fill="#f05a1e"/>
<rect x="567" y="399" width="1" height="17" fill="#0a7d38"/>
<rect x="566" y="401" width="3" height="9" fill="#0a7d38"/>
<rect x="572" y="393" width="1" height="9" fill="#0a7d38"/>
<rect x="571" y="397" width="3" height="5" fill="#0a7d38"/>
<rect x="577" y="392" width="1" height="9" fill="#0a7d38"/>
<rect x="576" y="394" width="3" height="4" fill="#0a7d38"/>
<rect x="582" y="393" width="1" height="6" fill="#f05a1e"/>
<rect x="581" y="394" width="3" height="1" fill="#f05a1e"/>
<rect x="587" y="388" width="1" height="16" fill="#f05a1e"/>
<rect x="586" y="393" width="3" height="7" fill="#f05a1e"/>
<rect x="592" y="398" width="1" height="58" fill="#f05a1e"/>
<rect x="591" y="399" width="3" height="53" fill="#f05a1e"/>
<rect x="597" y="424" width="1" height="41" fill="#0a7d38"/>
<rect x="596" y="430" width="3" height="21" fill="#0a7d38"/>
<rect x="602" y="417" width="1" height="17" fill="#0a7d38"/>
<rect x="601" y="421" width="3" height="11" fill="#0a7d38"/>
<rect x="607" y="418" width="1" height="21" fill="#f05a1e"/>
<rect x="606" y="421" width="3" height="11" fill="#f05a1e"/>
<rect x="612" y="428" width="1" height="14" fill="#f05a1e"/>
<rect x="611" y="431" width="3" height="5" fill="#f05a1e"/>
<rect x="617" y="434" width="1" height="96" fill="#f05a1e"/>
<rect x="616" y="435" width="3" height="63" fill="#f05a1e"/>
<rect x="622" y="472" width="1" height="28" fill="#0a7d38"/>
<rect x="621" y="476" width="3" height="22" fill="#0a7d38"/>
<rect x="627" y="464" width="1" height="19" fill="#0a7d38"/>
<rect x="626" y="469" width="3" height="8" fill="#0a7d38"/>
<rect x="632" y="457" width="1" height="14" fill="#0a7d38"/>
<rect x="631" y="466" width="3" height="4" fill="#0a7d38"/>
<rect x="637" y="454" width="1" height="20" fill="#0a7d38"/>
<rect x="636" y="461" width="3" height="6" fill="#0a7d38"/>
<rect x="642" y="448" width="1" height="32" fill="#f05a1e"/>
<rect x="641" y="461" width="3" height="13" fill="#f05a1e"/>
<rect x="647" y="456" width="1" height="18" fill="#0a7d38"/>
<rect x="646" y="457" width="3" height="17" fill="#0a7d38"/>
<rect x="652" y="443" width="1" height="17" fill="#0a7d38"/>
<rect x="651" y="455" width="3" height="4" fill="#0a7d38"/>
<rect x="657" y="454" width="1" height="62" fill="#f05a1e"/>
<rect x="656" y="455" width="3" height="60" fill="#f05a1e"/>
<rect x="662" y="479" width="1" height="64" fill="#f05a1e"/>
<rect x="661" y="514" width="3" height="8" fill="#f05a1e"/>
<rect x="667" y="503" width="1" height="33" fill="#0a7d38"/>
<rect x="666" y="506" width="3" height="17" fill="#0a7d38"/>
<rect x="672" y="492" width="1" height="25" fill="#f05a1e"/>
<rect x="671" y="507" width="3" height="10" fill="#f05a1e"/>
<rect x="677" y="514" width="1" height="21" fill="#f05a1e"/>
<rect x="676" y="516" width="3" height="5" fill="#f05a1e"/>
<rect x="682" y="476" width="1" height="47" fill="#0a7d38"/>
<rect x="681" y="487" width="3" height="34" fill="#0a7d38"/>
<rect x="687" y="485" width="1" height="25" fill="#f05a1e"/>
<rect x="686" y="487" width="3" height="19" fill="#f05a1e"/>
<rect x="692" y="501" width="1" height="12" fill="#f05a1e"/>
<rect x="691" y="505" width="3" height="3" fill="#f05a1e"/>
<rect x="697" y="499" width="1" height="12" fill="#f05a1e"/>
<rect x="696" y="507" width="3" height="1" fill="#f05a1e"/>
<rect x="702" y="501" width="1" height="30" fill="#f05a1e"/>
<rect x="701" y="506" width="3" height="20" fill="#f05a1e"/>
<rect x="707" y="502" width="1" height="25" fill="#0a7d38"/>
<rect x="706" y="510" width="3" height="16" fill="#0a7d38"/>
<rect x="712" y="492" width="1" height="19" fill="#0a7d38"/>
<rect x="711" y="496" width="3" height="15" fill="#0a7d38"/>
<rect x="717" y="479" width="1" height="21" fill="#0a7d38"/>
<rect x="716" y="481" width="3" height="16" fill="#0a7d38"/>
<rect x="722" y="465" width="1" height="17" fill="#0a7d38"/>
<rect x="721" y="466" width="3" height="16" fill="#0a7d38"/>
<rect x="727" y="447" width="1" height="22" fill="#0a7d38"/>
<rect x="726" y="453" width="3" height="14" fill="#0a7d38"/>
<rect x="732" y="447" width="1" height="11" fill="#f05a1e"/>
<rect x="731" y="453" width="3" height="1" fill="#f05a1e"/>
<rect x="737" y="451" width="1" height="11" fill="#f05a1e"/>
<rect x="736" y="453" width="3" height="4" fill="#f05a1e"/>
<rect x="742" y="445" width="1" height="14" fill="#f05a1e"/>
<rect x="741" y="456" width="3" height="1" fill="#f05a1e"/>
<rect x="747" y="455" width="1" height="16" fill="#f05a1e"/>
<rect x="746" y="457" width="3" height="13" fill="#f05a1e"/>
<rect x="752" y="464" width="1" height="10" fill="#f05a1e"/>
<rect x="751" y="469" width="3" height="1" fill="#f05a1e"/>
<rect x="757" y="462" width="1" height="16" fill="#f05a1e"/>
<rect x="756" y="469" width="3" height="4" fill="#f05a1e"/>
<rect x="762" y="469" width="1" height="12" fill="#f05a1e"/>
<rect x="761" y="472" width="3" height="1" fill="#f05a1e"/>
<rect x="767" y="440" width="1" height="35" fill="#0a7d38"/>
<rect x="766" y="444" width="3" height="30" fill="#0a7d38"/>
<rect x="772" y="419" width="1" height="26" fill="#0a7d38"/>
<rect x="771" y="433" width="3" height="12" fill="#0a7d38"/>
<rect x="777" y="395" width="1" height="41" fill="#0a7d38"/>
<rect x="776" y="397" width="3" height="37" fill="#0a7d38"/>
<rect x="782" y="381" width="1" height="17" fill="#0a7d38"/>
<rect x="781" y="391" width="3" height="7" fill="#0a7d38"/>
<rect x="787" y="379" width="1" height="19" fill="#0a7d38"/>
<rect x="786" y="389" width="3" height="3" fill="#0a7d38"/>
<rect x="792" y="388" width="1" height="9" fill="#f05a1e"/>
<rect x="791" y="389" width="3" height="1" fill="#f05a1e"/>
<rect x="797" y="386" width="1" height="23" fill="#f05a1e"/>
<rect x="796" y="390" width="3" height="12" fill="#f05a1e"/>
<rect x="802" y="394" width="1" height="22" fill="#f05a1e"/>
<rect x="801" y="401" width="3" height="8" fill="#f05a1e"/>
<rect x="807" y="401" width="1" height="13" fill="#0a7d38"/>
<rect x="806" y="404" width="3" height="5" fill="#0a7d38"/>
<rect x="812" y="402" width="1" height="12" fill="#f05a1e"/>
<rect x="811" y="404" width="3" height="8" fill="#f05a1e"/>
<rect x="817" y="400" width="1" height="28" fill="#0a7d38"/>
<rect x="816" y="413" width="3" height="1" fill="#0a7d38"/>
<rect x="822" y="412" width="1" height="16" fill="#f05a1e"/>
<rect x="821" y="412" width="3" height="16" fill="#f05a1e"/>
<rect x="827" y="413" width="1" height="15" fill="#0a7d38"/>
<rect x="826" y="415" width="3" height="13" fill="#0a7d38"/>
<rect x="832" y="411" width="1" height="12" fill="#f05a1e"/>
<rect x="831" y="415" width="3" height="6" fill="#f05a1e"/>
<rect x="837" y="405" width="1" height="18" fill="#0a7d38"/>
<rect x="836" y="407" width="3" height="14" fill="#0a7d38"/>
<rect x="842" y="403" width="1" height="10" fill="#0a7d38"/>
<rect x="841" y="404" width="3" height="4" fill="#0a7d38"/>
<rect x="847" y="391" width="1" height="15" fill="#0a7d38"/>
<rect x="846" y="392" width="3" height="13" fill="#0a7d38"/>
<rect x="852" y="370" width="1" height="24" fill="#0a7d38"/>
<rect x="851" y="372" width="3" height="21" fill="#0a7d38"/>
<rect x="857" y="368" width="1" height="14" fill="#f05a1e"/>
<rect x="856" y="372" width="3" height="8" fill="#f05a1e"/>
<rect x="862" y="368" width="1" height="16" fill="#0a7d38"/>
<rect x="861" y="373" width="3" height="7" fill="#0a7d38"/>
<rect x="867" y="370" width="1" height="27" fill="#f05a1e"/>
<rect x="866" y="373" width="3" height="21" fill="#f05a1e"/>
<rect x="872" y="393" width="1" height="15" fill="#f05a1e"/>
<rect x="871" y="393" width="3" height="4" fill="#f05a1e"/>
<rect x="877" y="393" width="1" height="19" fill="#f05a1e"/>
<rect x="876" y="396" width="3" height="9" fill="#f05a1e"/>
<rect x="882" y="396" width="1" height="13" fill="#0a7d38"/>
<rect x="881" y="404" width="3" height="1" fill="#0a7d38"/>
<rect x="887" y="391" width="1" height="27" fill="#0a7d38"/>
<rect x="886" y="392" width="3" height="13" fill="#0a7d38"/>
<rect x="892" y="379" width="1" height="47" fill="#0a7d38"/>
<rect x="891" y="384" width="3" height="9" fill="#0a7d38"/>
<rect x="897" y="368" width="1" height="26" fill="#0a7d38"/>
<rect x="896" y="376" width="3" height="9" fill="#0a7d38"/>
<rect x="902" y="375" width="1" height="25" fill="#f05a1e"/>
<rect x="901" y="376" width="3" height="19" fill="#f05a1e"/>
<rect x="907" y="388" width="1" height="19" fill="#f05a1e"/>
<rect x="906" y="395" width="3" height="10" fill="#f05a1e"/>
<rect x="912" y="400" width="1" height="14" fill="#f05a1e"/>
<rect x="911" y="404" width="3" height="4" fill="#f05a1e"/>
<rect x="917" y="399" width="1" height="12" fill="#0a7d38"/>
<rect x="916" y="401" width="3" height="7" fill="#0a7d38"/>
<rect x="922" y="386" width="1" height="16" fill="#0a7d38"/>
<rect x="921" y="388" width="3" height="14" fill="#0a7d38"/>
<rect x="927" y="385" width="1" height="13" fill="#f05a1e"/>
<rect x="926" y="387" width="3" height="7" fill="#f05a1e"/>
<rect x="932" y="381" width="1" height="23" fill="#f05a1e"/>
<rect x="931" y="390" width="3" height="12" fill="#f05a1e"/>
<rect x="937" y="383" width="1" height="21" fill="#0a7d38"/>
<rect x="936" y="383" width="3" height="19" fill="#0a7d38"/>
<rect x="942" y="375" width="1" height="20" fill="#f05a1e"/>
<rect x="941" y="383" width="3" height="10" fill="#f05a1e"/>
<rect x="947" y="382" width="1" height="15" fill="#f05a1e"/>
<rect x="946" y="392" width="3" height="1" fill="#f05a1e"/>
<rect x="952" y="390" width="1" height="18" fill="#f05a1e"/>
<rect x="951" y="393" width="3" height="9" fill="#f05a1e"/>
<rect x="957" y="386" width="1" height="17" fill="#0a7d38"/>
<rect x="956" y="389" width="3" height="13" fill="#0a7d38"/>
<rect x="962" y="378" width="1" height="14" fill="#0a7d38"/>
<rect x="961" y="378" width="3" height="12" fill="#0a7d38"/>
<rect x="967" y="360" width="1" height="19" fill="#0a7d38"/>
<rect x="966" y="369" width="3" height="10" fill="#0a7d38"/>
<rect x="972" y="362" width="1" height="22" fill="#f05a1e"/>
<rect x="971" y="368" width="3" height="16" fill="#f05a1e"/>
<rect x="977" y="360" width="1" height="25" fill="#0a7d38"/>
<rect x="976" y="361" width="3" height="23" fill="#0a7d38"/>
<rect x="982" y="348" width="1" height="16" fill="#f05a1e"/>
<rect x="981" y="361" width="3" height="3" fill="#f05a1e"/>
<rect x="987" y="352" width="1" height="19" fill="#0a7d38"/>
<rect x="986" y="356" width="3" height="7" fill="#0a7d38"/>
<rect x="992" y="356" width="1" height="19" fill="#f05a1e"/>
<rect x="991" y="356" width="3" height="17" fill="#f05a1e"/>
<rect x="997" y="363" width="1" height="20" fill="#0a7d38"/>
<rect x="996" y="365" width="3" height="8" fill="#0a7d38"/>
<rect x="1002" y="342" width="1" height="31" fill="#0a7d38"/>
<rect x="1001" y="347" width="3" height="19" fill="#0a7d38"/>
<rect x="1007" y="331" width="1" height="23" fill="#0a7d38"/>
<rect x="1006" y="337" width="3" height="11" fill="#0a7d38"/>
<rect x="1012" y="327" width="1" height="72" fill="#f05a1e"/>
<rect x="1011" y="336" width="3" height="13" fill="#f05a1e"/>
<rect x="1017" y="322" width="1" height="31" fill="#0a7d38"/>
<rect x="1016" y="325" width="3" height="24" fill="#0a7d38"/>
<rect x="1022" y="316" width="1" height="22" fill="#0a7d38"/>
<rect x="1021" y="319" width="3" height="7" fill="#0a7d38"/>
<rect x="1027" y="317" width="1" height="21" fill="#f05a1e"/>
<rect x="1026" y="319" width="3" height="1" fill="#f05a1e"/>
<rect x="1032" y="312" width="1" height="12" fill="#0a7d38"/>
<rect x="1031" y="312" width="3" height="9" fill="#0a7d38"/>
<rect x="1037" y="295" width="1" height="21" fill="#0a7d38"/>
<rect x="1036" y="296" width="3" height="17" fill="#0a7d38"/>
<rect x="1042" y="285" width="1" height="17" fill="#0a7d38"/>
<rect x="1041" y="287" width="3" height="10" fill="#0a7d38"/>
<rect x="1047" y="223" width="1" height="72" fill="#0a7d38"/>
<rect x="1046" y="229" width="3" height="55" fill="#0a7d38"/>
<rect x="1052" y="228" width="1" height="37" fill="#f05a1e"/>
<rect x="1051" y="230" width="3" height="21" fill="#f05a1e"/>
<rect x="1057" y="227" width="1" height="28" fill="#0a7d38"/>
<rect x="1056" y="237" width="3" height="13" fill="#0a7d38"/>
<rect x="1062" y="219" width="1" height="20" fill="#0a7d38"/>
<rect x="1061" y="221" width="3" height="17" fill="#0a7d38"/>
<rect x="1067" y="219" width="1" height="24" fill="#f05a1e"/>
<rect x="1066" y="221" width="3" height="8" fill="#f05a1e"/>
<rect x="1072" y="226" width="1" height="14" fill="#f05a1e"/>
<rect x="1071" y="228" width="3" height="7" fill="#f05a1e"/>
<rect x="1077" y="233" width="1" height="10" fill="#f05a1e"/>
<rect x="1076" y="234" width="3" height="3" fill="#f05a1e"/>
<rect x="1082" y="233" width="1" height="17" fill="#f05a1e"/>
<rect x="1081" y="236" width="3" height="13" fill="#f05a1e"/>
<rect x="1087" y="240" width="1" height="29" fill="#f05a1e"/>
<rect x="1086" y="249" width="3" height="9" fill="#f05a1e"/>
<rect x="1092" y="252" width="1" height="20" fill="#0a7d38"/>
<rect x="1091" y="254" width="3" height="5" fill="#0a7d38"/>
<rect x="1097" y="244" width="1" height="12" fill="#0a7d38"/>
<rect x="1096" y="245" width="3" height="10" fill="#0a7d38"/>
<rect x="1102" y="231" width="1" height="19" fill="#0a7d38"/>
<rect x="1101" y="232" width="3" height="14" fill="#0a7d38"/>
<rect x="1107" y="231" width="1" height="18" fill="#f05a1e"/>
<rect x="1106" y="232" width="3" height="14" fill="#f05a1e"/>
<rect x="1112" y="229" width="1" height="21" fill="#0a7d38"/>
<rect x="1111" y="231" width="3" height="15" fill="#0a7d38"/>
<rect x="1117" y="230" width="1" height="22" fill="#f05a1e"/>
<rect x="1116" y="231" width="3" height="18" fill="#f05a1e"/>
<rect x="1122" y="196" width="1" height="58" fill="#0a7d38"/>
<rect x="1121" y="203" width="3" height="46" fill="#0a7d38"/>
<rect x="1127" y="191" width="1" height="24" fill="#0a7d38"/>
<rect x="1126" y="200" width="3" height="5" fill="#0a7d38"/>
<rect x="1132" y="177" width="1" height="43" fill="#0a7d38"/>
<rect x="1131" y="186" width="3" height="15" fill="#0a7d38"/>
<rect x="1137" y="183" width="1" height="23" fill="#f05a1e"/>
<rect x="1136" y="186" width="3" height="3" fill="#f05a1e"/>
<rect x="1142" y="181" width="1" height="15" fill="#0a7d38"/>
<rect x="1141" y="188" width="3" height="1" fill="#0a7d38"/>
<rect x="1147" y="178" width="1" height="13" fill="#0a7d38"/>
<rect x="1146" y="181" width="3" height="7" fill="#0a7d38"/>
<rect x="1152" y="160" width="1" height="22" fill="#0a7d38"/>
<rect x="1151" y="161" width="3" height="21" fill="#0a7d38"/>
<rect x="1157" y="160" width="1" height="11" fill="#f05a1e"/>
<rect x="1156" y="161" width="3" height="9" fill="#f05a1e"/>
<rect x="1162" y="148" width="1" height="29" fill="#0a7d38"/>
<rect x="1161" y="162" width="3" height="5" fill="#0a7d38"/>
<rect x="1167" y="159" width="1" height="21" fill="#f05a1e"/>
<rect x="1166" y="162" width="3" height="12" fill="#f05a1e"/>
<rect x="1172" y="173" width="1" height="77" fill="#f05a1e"/>
<rect x="1171" y="173" width="3" height="46" fill="#f05a1e"/>
<rect x="1177" y="205" width="1" height="25" fill="#0a7d38"/>
<rect x="1176" y="206" width="3" height="13" fill="#0a7d38"/>
<rect x="1182" y="204" width="1" height="21" fill="#f05a1e"/>
<rect x="1181" y="206" width="3" height="18" fill="#f05a1e"/>
<rect x="1187" y="220" width="1" height="15" fill="#f05a1e"/>
<rect x="1186" y="223" width="3" height="5" fill="#f05a1e"/>
<rect x="1192" y="210" width="1" height="22" fill="#0a7d38"/>
<rect x="1191" y="213" width="3" height="15" fill="#0a7d38"/>
<rect x="1197" y="211" width="1" height="28" fill="#f05a1e"/>
<rect x="1196" y="213" width="3" height="10" fill="#f05a1e"/>
<rect x="1202" y="212" width="1" height="20" fill="#0a7d38"/>
<rect x="1201" y="216" width="3" height="7" fill="#0a7d38"/>
<rect x="1207" y="213" width="1" height="18" fill="#f05a1e"/>
<rect x="1206" y="217" width="3" height="6" fill="#f05a1e"/>
<rect x="1212" y="215" width="1" height="14" fill="#f05a1e"/>
<rect x="1211" y="222" width="3" height="3" fill="#f05a1e"/>
<rect x="1217" y="214" width="1" height="19" fill="#0a7d38"/>
<rect x="1216" y="222" width="3" height="3" fill="#0a7d38"/>
<rect x="1222" y="217" width="1" height="8" fill="#f05a1e"/>
<rect x="1221" y="222" width="3" height="1" fill="#f05a1e"/>
<rect x="1227" y="222" width="1" height="29" fill="#f05a1e"/>
<rect x="1226" y="223" width="3" height="22" fill="#f05a1e"/>
<rect x="1232" y="233" width="1" height="51" fill="#f05a1e"/>
<rect x="1231" y="244" width="3" height="35" fill="#f05a1e"/>
<rect x="1237" y="255" width="1" height="47" fill="#0a7d38"/>
<rect x="1236" y="265" width="3" height="14" fill="#0a7d38"/>
<rect x="1242" y="239" width="1" height="37" fill="#0a7d38"/>
<rect x="1241" y="244" width="3" height="22" fill="#0a7d38"/>
<rect x="1247" y="242" width="1" height="21" fill="#f05a1e"/>
<rect x="1246" y="244" width="3" height="9" fill="#f05a1e"/>
<rect x="1252" y="231" width="1" height="22" fill="#0a7d38"/>
<rect x="1251" y="231" width="3" height="22" fill="#0a7d38"/>
<rect x="1257" y="225" width="1" height="17" fill="#f05a1e"/>
<rect x="1256" y="231" width="3" height="5" fill="#f05a1e"/>
<rect x="1262" y="234" width="1" height="15" fill="#f05a1e"/>
<rect x="1261" y="235" width="3" height="6" fill="#f05a1e"/>
<rect x="1267" y="222" width="1" height="27" fill="#0a7d38"/>
<rect x="1266" y="231" width="3" height="10" fill="#0a7d38"/>
<rect x="1272" y="229" width="1" height="27" fill="#f05a1e"/>
<rect x="1271" y="231" width="3" height="20" fill="#f05a1e"/>
<rect x="1277" y="242" width="1" height="33" fill="#0a7d38"/>
<rect x="1276" y="247" width="3" height="4" fill="#0a7d38"/>
<rect x="1282" y="238" width="1" height="20" fill="#0a7d38"/>
<rect x="1281" y="242" width="3" height="6" fill="#0a7d38"/>
<rect x="1287" y="206" width="1" height="45" fill="#0a7d38"/>
<rect x="1286" y="218" width="3" height="25" fill="#0a7d38"/>
<rect x="1292" y="202" width="1" height="27" fill="#0a7d38"/>
<rect x="1291" y="215" width="3" height="4" fill="#0a7d38"/>
<rect x="1297" y="206" width="1" height="12" fill="#0a7d38"/>
<rect x="1296" y="213" width="3" height="3" fill="#0a7d38"/>
<rect x="1302" y="210" width="1" height="13" fill="#0a7d38"/>
<rect x="1301" y="213" width="3" height="1" fill="#0a7d38"/>
<rect x="1307" y="186" width="1" height="28" fill="#0a7d38"/>
<rect x="1306" y="194" width="3" height="20" fill="#0a7d38"/>
<rect x="1312" y="194" width="1" height="20" fill="#f05a1e"/>
<rect x="1311" y="194" width="3" height="8" fill="#f05a1e"/>
<rect x="1317" y="201" width="1" height="15" fill="#f05a1e"/>
<rect x="1316" y="201" width="3" height="11" fill="#f05a1e"/>
<rect x="1322" y="199" width="1" height="13" fill="#0a7d38"/>
<rect x="1321" y="210" width="3" height="1" fill="#0a7d38"/>
<rect x="1327" y="201" width="1" height="19" fill="#0a7d38"/>
<rect x="1326" y="202" width="3" height="9" fill="#0a7d38"/>
<rect x="1332" y="201" width="1" height="25" fill="#f05a1e"/>
<rect x="1331" y="202" width="3" height="19" fill="#f05a1e"/>
<rect x="1337" y="213" width="1" height="27" fill="#0a7d38"/>
<rect x="1336" y="214" width="3" height="7" fill="#0a7d38"/>
<rect x="1342" y="208" width="1" height="11" fill="#0a7d38"/>
<rect x="1341" y="214" width="3" height="1" fill="#0a7d38"/>
<rect x="1347" y="204" width="1" height="11" fill="#0a7d38"/>
<rect x="1346" y="210" width="3" height="4" fill="#0a7d38"/>
<rect x="1352" y="202" width="1" height="34" fill="#0a7d38"/>
<rect x="1351" y="204" width="3" height="7" fill="#0a7d38"/>
<rect x="1357" y="193" width="1" height="30" fill="#0a7d38"/>
<rect x="1356" y="201" width="3" height="4" fill="#0a7d38"/>
<rect x="1362" y="183" width="1" height="24" fill="#0a7d38"/>
<rect x="1361" y="184" width="3" height="18" fill="#0a7d38"/>
<rect x="1367" y="179" width="1" height="14" fill="#f05a1e"/>
<rect x="1366" y="184" width="3" height="6" fill="#f05a1e"/>
<rect x="1372" y="189" width="1" height="8" fill="#f05a1e"/>
<rect x="1371" y="189" width="3" height="6" fill="#f05a1e"/>
<rect x="1377" y="188" width="1" height="17" fill="#0a7d38"/>
<rect x="1376" y="191" width="3" height="4" fill="#0a7d38"/>
<rect x="1382" y="190" width="1" height="60" fill="#f05a1e"/>
<rect x="1381" y="191" width="3" height="52" fill="#f05a1e"/>
<rect x="1387" y="222" width="1" height="23" fill="#0a7d38"/>
<rect x="1386" y="230" width="3" height="13" fill="#0a7d38"/>
<rect x="1392" y="213" width="1" height="27" fill="#0a7d38"/>
<rect x="1391" y="233" width="3" height="1" fill="#0a7d38"/>
<rect x="1397" y="204" width="1" height="36" fill="#0a7d38"/>
<rect x="1396" y="207" width="3" height="26" fill="#0a7d38"/>
<rect x="1402" y="198" width="1" height="20" fill="#0a7d38"/>
<rect x="1401" y="204" width="3" height="4" fill="#0a7d38"/>
<rect x="1407" y="200" width="1" height="22" fill="#f05a1e"/>
<rect x="1406" y="204" width="3" height="8" fill="#f05a1e"/>
<rect x="1412" y="202" width="1" height="11" fill="#0a7d38"/>
<rect x="1411" y="203" width="3" height="9" fill="#0a7d38"/>
<rect x="1417" y="197" width="1" height="9" fill="#0a7d38"/>
<rect x="1416" y="203" width="3" height="1" fill="#0a7d38"/>
<rect x="1422" y="191" width="1" height="15" fill="#0a7d38"/>
<rect x="1421" y="198" width="3" height="6" fill="#0a7d38"/>
<rect x="1427" y="196" width="1" height="10" fill="#f05a1e"/>
<rect x="1426" y="198" width="3" height="5" fill="#f05a1e"/>
<rect x="1432" y="201" width="1" height="16" fill="#f05a1e"/>
<rect x="1431" y="202" width="3" height="8" fill="#f05a1e"/>
<rect x="1437" y="205" width="1" height="23" fill="#f05a1e"/>
<rect x="1436" y="209" width="3" height="8" fill="#f05a1e"/>
<rect x="1442" y="206" width="1" height="16" fill="#0a7d38"/>
<rect x="1441" y="209" width="3" height="9" fill="#0a7d38"/>
<rect x="1447" y="206" width="1" height="24" fill="#f05a1e"/>
<rect x="1446" y="209" width="3" height="16" fill="#f05a1e"/>
<rect x="1452" y="217" width="1" height="18" fill="#f05a1e"/>
<rect x="1451" y="224" width="3" height="7" fill="#f05a1e"/>
<rect x="1457" y="208" width="1" height="30" fill="#0a7d38"/>
<rect x="1456" y="212" width="3" height="19" fill="#0a7d38"/>
<rect x="1462" y="210" width="1" height="21" fill="#f05a1e"/>
<rect x="1461" y="212" width="3" height="18" fill="#f05a1e"/>
<rect x="1467" y="219" width="1" height="36" fill="#f05a1e"/>
<rect x="1466" y="229" width="3" height="1" fill="#f05a1e"/>
<rect x="1472" y="203" width="1" height="61" fill="#0a7d38"/>
<rect x="1471" y="210" width="3" height="22" fill="#0a7d38"/>
<rect x="1477" y="208" width="1" height="15" fill="#f05a1e"/>
<rect x="1476" y="210" width="3" height="7" fill="#f05a1e"/>
<rect x="1482" y="205" width="1" height="29" fill="#f05a1e"/>
<rect x="1481" y="216" width="3" height="13" fill="#f05a1e"/>
<rect x="1487" y="210" width="1" height="25" fill="#0a7d38"/>
<rect x="1486" y="215" width="3" height="14" fill="#0a7d38"/>
<rect x="1492" y="202" width="1" height="15" fill="#0a7d38"/>
<rect x="1491" y="209" width="3" height="7" fill="#0a7d38"/>
<rect x="1497" y="195" width="1" height="15" fill="#0a7d38"/>
<rect x="1496" y="199" width="3" height="11" fill="#0a7d38"/>
<rect x="1502" y="195" width="1" height="19" fill="#f05a1e"/>
<rect x="1501" y="199" width="3" height="12" fill="#f05a1e"/>
<rect x="1507" y="206" width="1" height="15" fill="#f05a1e"/>
<rect x="1506" y="211" width="3" height="1" fill="#f05a1e"/>
<rect x="1512" y="201" width="1" height="25" fill="#f05a1e"/>
<rect x="1511" y="211" width="3" height="10" fill="#f05a1e"/>
<rect x="1517" y="201" width="1" height="28" fill="#0a7d38"/>
<rect x="1516" y="202" width="3" height="19" fill="#0a7d38"/>
<rect x="1522" y="196" width="1" height="27" fill="#f05a1e"/>
<rect x="1521" y="202" width="3" height="11" fill="#f05a1e"/>
<rect x="1527" y="205" width="1" height="10" fill="#0a7d38"/>
<rect x="1526" y="212" width="3" height="1" fill="#0a7d38"/>
<rect x="1532" y="207" width="1" height="8" fill="#f05a1e"/>
<rect x="1531" y="211" width="3" height="4" fill="#f05a1e"/>
<rect x="1537" y="196" width="1" height="19" fill="#0a7d38"/>
<rect x="1536" y="198" width="3" height="17" fill="#0a7d38"/>
<rect x="1542" y="197" width="1" height="14" fill="#f05a1e"/>
<rect x="1541" y="198" width="3" height="13" fill="#f05a1e"/>
<rect x="1547" y="206" width="1" height="14" fill="#f05a1e"/>
<rect x="1546" y="210" width="3" height="10" fill="#f05a1e"/>
<rect x="1552" y="213" width="1" height="9" fill="#0a7d38"/>
<rect x="1551" y="218" width="3" height="1" fill="#0a7d38"/>
<rect x="1557" y="213" width="1" height="11" fill="#f05a1e"/>
<rect x="1556" y="217" width="3" height="3" fill="#f05a1e"/>
<rect x="1562" y="215" width="1" height="12" fill="#0a7d38"/>
<rect x="1561" y="219" width="3" height="1" fill="#0a7d38"/>
<rect x="1567" y="210" width="1" height="13" fill="#0a7d38"/>
<rect x="1566" y="210" width="3" height="9" fill="#0a7d38"/>
<rect x="1572" y="205" width="1" height="8" fill="#0a7d38"/>
<rect x="1571" y="208" width="3" height="3" fill="#0a7d38"/>
<rect x="1577" y="157" width="1" height="53" fill="#0a7d38"/>
<rect x="1576" y="174" width="3" height="35" fill="#0a7d38"/>
<rect x="1582" y="161" width="1" height="23" fill="#0a7d38"/>
<rect x="1581" y="174" width="3" height="1" fill="#0a7d38"/>
<rect x="1587" y="151" width="1" height="32" fill="#0a7d38"/>
<rect x="1586" y="158" width="3" height="16" fill="#0a7d38"/>
<rect x="1592" y="140" width="1" height="36" fill="#f05a1e"/>
<rect x="1591" y="158" width="3" height="11" fill="#f05a1e"/>
<rect x="1597" y="160" width="1" height="17" fill="#0a7d38"/>
<rect x="1596" y="162" width="3" height="7" fill="#0a7d38"/>
<rect x="1602" y="151" width="1" height="24" fill="#0a7d38"/>
<rect x="1601" y="152" width="3" height="12" fill="#0a7d38"/>
<rect x="1607" y="145" width="1" height="13" fill="#0a7d38"/>
<rect x="1606" y="148" width="3" height="5" fill="#0a7d38"/>
<rect x="1612" y="133" width="1" height="17" fill="#0a7d38"/>
<rect x="1611" y="135" width="3" height="14" fill="#0a7d38"/>
<rect x="1617" y="119" width="1" height="23" fill="#0a7d38"/>
<rect x="1616" y="121" width="3" height="15" fill="#0a7d38"/>
<rect x="20" y="120" width="1727" height="1" fill="#0a7d38"/>
<rect x="20" y="121" width="1727" height="1" fill="#f05a1e"/>
<rect x="20" y="574" width="1740" height="2" fill="#000"/>
<rect x="20" y="604" width="1819" height="2" fill="#000"/>
<rect x="1758" y="49" width="2" height="527" fill="#000"/>
<rect x="1758" y="604" width="2" height="238" fill="#000"/>
<rect x="61.5" y="576" width="2" height="3" fill="#000"/>
<rect x="256.5" y="576" width="2" height="3" fill="#000"/>
<rect x="451.5" y="576" width="2" height="3" fill="#000"/>
<rect x="646.5" y="576" width="2" height="3" fill="#000"/>
<rect x="841.5" y="576" width="2" height="3" fill="#000"/>
<rect x="1036.5" y="576" width="2" height="3" fill="#000"/>
<rect x="1231.5" y="576" width="2" height="3" fill="#000"/>
<rect x="1426.5" y="576" width="2" height="3" fill="#000"/>
<rect x="1621.5" y="576" width="2" height="3" fill="#000"/>
<path d="M1731 67.5 H1740.5 V162.5 H1731" stroke="#333" fill="none"/>
</g>
<path d="M20.0 683.75C21.2 683.8 25.0 683.1 27.5 683.8C30.0 684.4 32.1 685.6 35.0 687.5C37.9 689.4 41.7 692.3 45.0 695.0C48.3 697.7 51.7 701.2 55.0 703.8C58.3 706.3 62.1 708.9 65.0 710.5C67.9 712.1 69.6 712.8 72.5 713.2C75.4 713.8 78.8 713.5 82.5 713.5C86.2 713.5 91.2 712.8 95.0 713.0C98.8 713.2 101.7 713.9 105.0 715.0C108.3 716.1 111.7 717.9 115.0 719.5C118.3 721.1 122.1 723.2 125.0 724.5C127.9 725.8 130.0 726.8 132.5 727.5C135.0 728.2 137.5 728.7 140.0 729.0C142.5 729.3 145.0 729.3 147.5 729.2C150.0 729.2 152.1 729.5 155.0 728.8C157.9 728.0 161.7 726.7 165.0 725.0C168.3 723.3 171.7 720.8 175.0 718.8C178.3 716.8 181.7 715.0 185.0 713.0C188.3 711.0 192.5 709.0 195.0 707.0C197.5 705.0 198.3 703.2 200.0 701.2C201.7 699.3 203.3 697.0 205.0 695.5C206.7 694.0 208.3 693.1 210.0 692.5C211.7 691.9 213.3 691.7 215.0 691.8C216.7 691.8 217.9 692.4 220.0 693.0C222.1 693.6 225.0 694.8 227.5 695.5C230.0 696.2 232.1 697.0 235.0 697.5C237.9 698.0 242.1 697.8 245.0 698.2C247.9 698.7 250.0 699.1 252.5 700.0C255.0 700.9 257.1 701.9 260.0 703.8C262.9 705.6 266.7 709.0 270.0 711.2C273.3 713.5 276.7 715.8 280.0 717.5C283.3 719.2 286.7 720.1 290.0 721.2C293.3 722.4 296.7 723.6 300.0 724.5C303.3 725.4 306.7 725.9 310.0 726.5C313.3 727.1 317.1 727.7 320.0 728.2C322.9 728.8 325.2 729.3 327.5 730.0C329.8 730.7 332.1 731.5 333.8 732.5C335.4 733.5 336.2 734.4 337.5 736.2C338.8 738.1 340.0 740.6 341.2 743.8C342.5 746.9 343.5 750.8 345.0 755.0C346.5 759.2 348.3 764.2 350.0 768.8C351.7 773.3 353.3 778.1 355.0 782.5C356.7 786.9 358.3 791.5 360.0 795.0C361.7 798.5 363.3 801.3 365.0 803.8C366.7 806.2 368.3 808.0 370.0 809.5C371.7 811.0 373.5 812.4 375.0 813.0C376.5 813.6 377.5 813.3 378.8 813.0C380.0 812.7 380.6 812.6 382.5 811.2C384.4 809.9 387.5 807.7 390.0 805.0C392.5 802.3 395.0 798.4 397.5 795.0C400.0 791.6 402.5 787.8 405.0 784.5C407.5 781.2 410.0 778.0 412.5 775.0C415.0 772.0 417.5 768.8 420.0 766.2C422.5 763.8 425.0 761.8 427.5 760.0C430.0 758.2 432.5 756.8 435.0 755.5C437.5 754.2 440.0 753.2 442.5 752.0C445.0 750.8 447.5 749.6 450.0 748.0C452.5 746.4 455.0 744.7 457.5 742.5C460.0 740.3 462.5 737.7 465.0 735.0C467.5 732.3 469.7 729.6 472.5 726.2C475.3 722.9 479.4 717.8 482.0 715.0C484.6 712.2 486.2 711.1 488.2 709.5C490.3 707.9 492.4 706.4 494.5 705.5C496.6 704.6 498.7 704.0 500.8 704.2C502.8 704.5 504.7 705.6 507.0 707.0C509.3 708.4 512.0 710.8 514.5 712.5C517.0 714.2 519.1 716.0 522.0 717.5C524.9 719.0 528.7 720.8 532.0 721.8C535.3 722.7 538.7 722.6 542.0 723.0C545.3 723.4 548.7 723.6 552.0 724.2C555.3 724.9 558.7 725.8 562.0 727.0C565.3 728.2 568.7 729.9 572.0 731.2C575.3 732.6 579.1 734.0 582.0 735.0C584.9 736.0 587.0 736.0 589.5 737.5C592.0 739.0 594.1 741.2 597.0 743.8C599.9 746.2 603.7 749.5 607.0 752.5C610.3 755.5 614.1 758.8 617.0 761.8C619.9 764.7 622.0 767.2 624.5 770.0C627.0 772.8 629.7 776.5 632.0 778.8C634.3 781.0 636.2 782.2 638.2 783.2C640.3 784.3 642.2 784.8 644.5 785.0C646.8 785.2 649.5 784.7 652.0 784.5C654.5 784.3 657.0 783.7 659.5 783.8C662.0 783.8 664.5 784.4 667.0 785.0C669.5 785.6 672.0 786.8 674.5 787.5C677.0 788.2 679.5 788.9 682.0 789.2C684.5 789.6 687.0 789.7 689.5 789.5C692.0 789.3 694.1 788.7 697.0 788.0C699.9 787.3 704.1 786.4 707.0 785.5C709.9 784.6 712.4 783.6 714.5 782.5C716.6 781.4 717.8 780.6 719.5 778.8C721.2 776.9 722.4 774.8 724.5 771.2C726.6 767.7 729.5 762.1 732.0 757.5C734.5 752.9 737.0 747.7 739.5 743.8C742.0 739.8 744.5 736.4 747.0 733.8C749.5 731.1 752.0 729.5 754.5 728.0C757.0 726.5 759.5 725.8 762.0 725.0C764.5 724.2 767.0 724.0 769.5 723.0C772.0 722.0 774.5 720.9 777.0 718.8C779.5 716.6 782.0 713.3 784.5 710.0C787.0 706.7 789.5 702.5 792.0 698.8C794.5 695.0 797.0 690.8 799.5 687.5C802.0 684.2 804.5 681.2 807.0 678.8C809.5 676.2 812.0 673.9 814.5 672.5C817.0 671.1 819.5 670.6 822.0 670.5C824.5 670.4 827.0 671.0 829.5 672.0C832.0 673.0 834.5 674.9 837.0 676.2C839.5 677.6 842.0 679.0 844.5 680.0C847.0 681.0 849.5 681.7 852.0 682.0C854.5 682.3 857.0 682.2 859.5 682.0C862.0 681.8 864.1 680.8 867.0 680.5C869.9 680.2 874.1 679.9 877.0 680.0C879.9 680.1 881.6 680.6 884.5 681.2C887.4 681.9 891.2 682.9 894.5 683.8C897.8 684.6 901.6 684.8 904.5 686.2C907.4 687.7 909.5 690.2 912.0 692.5C914.5 694.8 917.0 697.7 919.5 700.0C922.0 702.3 924.5 704.5 927.0 706.2C929.5 708.0 931.7 709.4 934.5 710.5C937.3 711.6 941.2 712.4 944.0 713.0C946.8 713.6 949.0 713.7 951.5 714.0C954.0 714.3 956.5 714.8 959.0 715.0C961.5 715.2 964.0 715.3 966.5 715.0C969.0 714.7 971.5 713.9 974.0 713.0C976.5 712.1 979.0 710.9 981.5 709.5C984.0 708.1 986.5 706.0 989.0 704.5C991.5 703.0 994.0 701.8 996.5 700.5C999.0 699.2 1001.5 698.3 1004.0 697.0C1006.5 695.7 1009.0 694.1 1011.5 692.5C1014.0 690.9 1016.5 689.2 1019.0 687.5C1021.5 685.8 1024.0 683.9 1026.5 682.0C1029.0 680.1 1031.5 678.2 1034.0 676.2C1036.5 674.2 1039.4 672.0 1041.5 670.0C1043.6 668.0 1044.8 666.8 1046.5 664.5C1048.2 662.2 1049.4 659.5 1051.5 656.2C1053.6 653.0 1056.5 648.2 1059.0 645.0C1061.5 641.8 1064.0 639.1 1066.5 637.0C1069.0 634.9 1071.5 633.5 1074.0 632.5C1076.5 631.5 1079.0 630.8 1081.5 630.8C1084.0 630.8 1086.5 631.4 1089.0 632.5C1091.5 633.6 1094.0 635.6 1096.5 637.5C1099.0 639.4 1101.5 641.7 1104.0 643.8C1106.5 645.8 1109.0 647.9 1111.5 650.0C1114.0 652.1 1116.5 654.5 1119.0 656.2C1121.5 658.0 1124.0 659.5 1126.5 660.5C1129.0 661.5 1131.5 661.8 1134.0 662.0C1136.5 662.2 1139.0 662.2 1141.5 661.8C1144.0 661.3 1146.5 660.3 1149.0 659.5C1151.5 658.7 1154.0 657.7 1156.5 656.8C1159.0 655.8 1161.7 654.6 1164.0 653.8C1166.3 652.9 1168.2 651.5 1170.2 651.8C1172.3 652.0 1174.2 653.2 1176.5 655.0C1178.8 656.8 1181.7 659.6 1184.0 662.5C1186.3 665.4 1188.2 668.8 1190.2 672.5C1192.3 676.2 1194.2 680.8 1196.5 685.0C1198.8 689.2 1201.5 693.8 1204.0 697.5C1206.5 701.2 1209.0 704.6 1211.5 707.5C1214.0 710.4 1216.5 712.7 1219.0 715.0C1221.5 717.3 1224.0 719.1 1226.5 721.2C1229.0 723.4 1231.5 725.1 1234.0 728.0C1236.5 730.9 1239.0 735.7 1241.5 738.8C1244.0 741.8 1246.7 744.6 1249.0 746.2C1251.3 747.9 1253.2 748.2 1255.2 748.8C1257.3 749.2 1259.2 749.2 1261.5 749.2C1263.8 749.3 1266.5 749.3 1269.0 749.0C1271.5 748.7 1274.0 748.0 1276.5 747.5C1279.0 747.0 1281.5 746.9 1284.0 746.2C1286.5 745.6 1289.0 745.0 1291.5 743.8C1294.0 742.5 1296.5 741.0 1299.0 738.8C1301.5 736.5 1304.0 732.9 1306.5 730.0C1309.0 727.1 1311.5 723.8 1314.0 721.2C1316.5 718.8 1319.0 716.8 1321.5 715.0C1324.0 713.2 1326.5 711.5 1329.0 710.5C1331.5 709.5 1334.0 709.0 1336.5 708.8C1339.0 708.5 1341.1 708.7 1344.0 708.8C1346.9 708.8 1351.1 709.2 1354.0 709.2C1356.9 709.2 1359.0 709.2 1361.5 708.8C1364.0 708.2 1366.5 707.2 1369.0 706.2C1371.5 705.3 1374.0 703.8 1376.5 703.0C1379.0 702.2 1382.4 701.9 1384.0 701.8C1385.6 701.6 1384.4 701.0 1386.0 702.0C1387.6 703.0 1391.0 705.4 1393.5 707.5C1396.0 709.6 1398.5 712.5 1401.0 714.5C1403.5 716.5 1406.0 718.2 1408.5 719.5C1411.0 720.8 1413.5 721.9 1416.0 722.5C1418.5 723.1 1421.0 722.9 1423.5 723.0C1426.0 723.1 1428.5 723.1 1431.0 723.0C1433.5 722.9 1436.0 722.4 1438.5 722.5C1441.0 722.6 1443.5 723.1 1446.0 723.8C1448.5 724.4 1451.0 725.2 1453.5 726.2C1456.0 727.3 1458.5 728.8 1461.0 730.0C1463.5 731.2 1466.0 732.7 1468.5 733.8C1471.0 734.8 1473.5 735.5 1476.0 736.2C1478.5 737.0 1481.0 737.6 1483.5 738.0C1486.0 738.4 1488.5 738.5 1491.0 738.5C1493.5 738.5 1496.0 738.5 1498.5 738.0C1501.0 737.5 1503.5 736.3 1506.0 735.5C1508.5 734.7 1511.0 733.9 1513.5 733.0C1516.0 732.1 1518.5 730.8 1521.0 730.0C1523.5 729.2 1526.0 728.5 1528.5 728.0C1531.0 727.5 1533.5 727.2 1536.0 726.8C1538.5 726.3 1541.0 725.8 1543.5 725.5C1546.0 725.2 1548.5 725.0 1551.0 725.0C1553.5 725.0 1556.0 725.2 1558.5 725.5C1561.0 725.8 1563.5 726.3 1566.0 726.5C1568.5 726.7 1571.2 726.8 1573.5 726.8C1575.8 726.7 1577.9 727.0 1579.8 726.2C1581.6 725.5 1582.9 724.6 1584.8 722.5C1586.6 720.4 1588.7 717.3 1591.0 713.8C1593.3 710.2 1596.0 705.4 1598.5 701.2C1601.0 697.1 1603.7 692.5 1606.0 688.8C1608.3 685.0 1610.4 681.5 1612.2 678.8C1614.1 676.0 1616.4 673.1 1617.2 672.0" stroke="#1e90ff" stroke-width="2" fill="none" shape-rendering="crispEdges"/>
<path d="M20.0 682.385C21.2 682.4 25.0 681.8 27.5 682.4C30.0 682.9 32.1 683.9 35.0 685.6C37.9 687.4 41.7 690.3 45.0 693.0C48.3 695.8 51.7 699.2 55.0 701.9C58.3 704.6 62.1 707.4 65.0 709.1C67.9 710.8 69.6 711.7 72.5 712.3C75.4 713.0 78.8 713.0 82.5 713.0C86.2 713.0 91.2 712.3 95.0 712.6C98.8 712.8 101.7 713.3 105.0 714.3C108.3 715.3 111.7 717.1 115.0 718.7C118.3 720.2 122.1 722.4 125.0 723.7C127.9 725.1 130.0 726.1 132.5 727.0C135.0 727.8 137.5 728.4 140.0 728.7C142.5 729.1 145.0 729.2 147.5 729.2C150.0 729.2 152.1 729.5 155.0 728.8C157.9 728.2 161.7 726.9 165.0 725.3C168.3 723.7 171.7 721.2 175.0 719.2C178.3 717.2 181.7 715.2 185.0 713.2C188.3 711.2 192.5 709.0 195.0 707.1C197.5 705.2 198.3 703.7 200.0 701.8C201.7 700.0 203.3 697.5 205.0 695.9C206.7 694.3 208.3 693.0 210.0 692.1C211.7 691.3 213.3 690.9 215.0 690.8C216.7 690.7 217.9 691.1 220.0 691.6C222.1 692.1 225.0 693.3 227.5 694.1C230.0 694.8 232.1 695.7 235.0 696.2C237.9 696.7 242.1 696.8 245.0 697.2C247.9 697.7 250.0 698.0 252.5 698.8C255.0 699.7 257.1 700.5 260.0 702.4C262.9 704.2 266.7 707.4 270.0 709.8C273.3 712.1 276.7 714.6 280.0 716.4C283.3 718.2 286.7 719.3 290.0 720.5C293.3 721.8 296.7 723.0 300.0 724.0C303.3 724.9 306.7 725.5 310.0 726.2C313.3 726.8 317.1 727.4 320.0 728.0C322.9 728.6 325.2 729.1 327.5 729.7C329.8 730.4 332.1 731.2 333.8 732.1C335.4 733.0 336.2 733.6 337.5 735.2C338.8 736.8 340.0 738.9 341.2 741.7C342.5 744.5 343.5 747.9 345.0 752.1C346.5 756.2 348.3 761.8 350.0 766.5C351.7 771.3 353.3 776.1 355.0 780.7C356.7 785.3 358.3 790.0 360.0 793.9C361.7 797.7 363.3 801.1 365.0 803.8C366.7 806.6 368.3 808.7 370.0 810.5C371.7 812.3 373.5 813.8 375.0 814.6C376.5 815.5 377.5 815.6 378.8 815.5C380.0 815.5 380.6 815.5 382.5 814.3C384.4 813.1 387.5 810.9 390.0 808.3C392.5 805.7 395.0 802.0 397.5 798.6C400.0 795.2 402.5 791.3 405.0 787.9C407.5 784.4 410.0 781.1 412.5 777.9C415.0 774.8 417.5 771.5 420.0 768.8C422.5 766.1 425.0 763.9 427.5 762.0C430.0 760.0 432.5 758.5 435.0 757.0C437.5 755.6 440.0 754.6 442.5 753.3C445.0 752.0 447.5 750.8 450.0 749.2C452.5 747.6 455.0 745.9 457.5 743.8C460.0 741.7 462.5 739.1 465.0 736.4C467.5 733.7 469.7 731.0 472.5 727.6C475.3 724.2 479.4 719.0 482.0 716.0C484.6 713.1 486.2 711.7 488.2 710.0C490.3 708.3 492.4 706.6 494.5 705.6C496.6 704.5 498.7 703.7 500.8 703.7C502.8 703.8 504.7 704.6 507.0 705.8C509.3 707.0 512.0 709.3 514.5 711.1C517.0 712.8 519.1 714.7 522.0 716.3C524.9 718.0 528.7 719.9 532.0 721.0C535.3 722.1 538.7 722.2 542.0 722.7C545.3 723.1 548.7 723.3 552.0 723.9C555.3 724.6 558.7 725.5 562.0 726.6C565.3 727.7 568.7 729.4 572.0 730.8C575.3 732.1 579.1 733.6 582.0 734.7C584.9 735.8 587.0 735.9 589.5 737.3C592.0 738.7 594.1 740.7 597.0 743.2C599.9 745.6 603.7 749.0 607.0 752.1C610.3 755.2 614.1 758.6 617.0 761.6C619.9 764.5 622.0 767.0 624.5 769.9C627.0 772.7 629.7 776.4 632.0 778.8C634.3 781.1 636.2 782.7 638.2 784.0C640.3 785.2 642.2 785.9 644.5 786.3C646.8 786.7 649.5 786.4 652.0 786.2C654.5 786.1 657.0 785.5 659.5 785.5C662.0 785.5 664.5 785.9 667.0 786.5C669.5 787.0 672.0 788.1 674.5 788.8C677.0 789.6 679.5 790.4 682.0 790.8C684.5 791.2 687.0 791.4 689.5 791.3C692.0 791.1 694.1 790.6 697.0 790.0C699.9 789.4 704.1 788.4 707.0 787.5C709.9 786.6 712.4 785.6 714.5 784.6C716.6 783.5 717.8 782.9 719.5 781.2C721.2 779.5 722.4 777.8 724.5 774.4C726.6 770.9 729.5 765.3 732.0 760.6C734.5 756.0 737.0 750.6 739.5 746.5C742.0 742.3 744.5 738.5 747.0 735.5C749.5 732.6 752.0 730.6 754.5 728.9C757.0 727.2 759.5 726.3 762.0 725.4C764.5 724.4 767.0 724.2 769.5 723.1C772.0 722.1 774.5 721.2 777.0 719.1C779.5 717.1 782.0 714.1 784.5 710.9C787.0 707.6 789.5 703.5 792.0 699.7C794.5 695.9 797.0 691.6 799.5 688.1C802.0 684.6 804.5 681.4 807.0 678.7C809.5 676.0 812.0 673.4 814.5 671.8C817.0 670.2 819.5 669.4 822.0 669.1C824.5 668.8 827.0 669.2 829.5 670.0C832.0 670.9 834.5 672.6 837.0 674.0C839.5 675.3 842.0 676.9 844.5 677.9C847.0 679.0 849.5 679.8 852.0 680.3C854.5 680.7 857.0 680.7 859.5 680.6C862.0 680.4 864.1 679.6 867.0 679.3C869.9 679.0 874.1 678.5 877.0 678.6C879.9 678.6 881.6 679.0 884.5 679.6C887.4 680.2 891.2 681.2 894.5 682.1C897.8 682.9 901.6 683.3 904.5 684.7C907.4 686.0 909.5 688.2 912.0 690.4C914.5 692.6 917.0 695.5 919.5 697.9C922.0 700.2 924.5 702.6 927.0 704.5C929.5 706.4 931.7 708.0 934.5 709.2C937.3 710.5 941.2 711.5 944.0 712.2C946.8 712.9 949.0 713.0 951.5 713.4C954.0 713.7 956.5 714.2 959.0 714.4C961.5 714.6 964.0 714.8 966.5 714.6C969.0 714.3 971.5 713.7 974.0 712.8C976.5 712.0 979.0 710.9 981.5 709.5C984.0 708.1 986.5 706.1 989.0 704.6C991.5 703.1 994.0 701.6 996.5 700.3C999.0 699.0 1001.5 698.0 1004.0 696.6C1006.5 695.2 1009.0 693.7 1011.5 692.1C1014.0 690.5 1016.5 688.8 1019.0 687.1C1021.5 685.3 1024.0 683.4 1026.5 681.5C1029.0 679.6 1031.5 677.6 1034.0 675.6C1036.5 673.6 1039.4 671.2 1041.5 669.3C1043.6 667.3 1044.8 666.1 1046.5 663.9C1048.2 661.7 1049.4 659.4 1051.5 656.1C1053.6 652.8 1056.5 647.8 1059.0 644.3C1061.5 640.9 1064.0 637.9 1066.5 635.6C1069.0 633.2 1071.5 631.6 1074.0 630.3C1076.5 629.1 1079.0 628.3 1081.5 628.1C1084.0 627.9 1086.5 628.3 1089.0 629.3C1091.5 630.3 1094.0 632.1 1096.5 633.9C1099.0 635.7 1101.5 638.0 1104.0 640.2C1106.5 642.3 1109.0 644.4 1111.5 646.6C1114.0 648.7 1116.5 651.2 1119.0 653.0C1121.5 654.9 1124.0 656.6 1126.5 657.7C1129.0 658.9 1131.5 659.4 1134.0 659.7C1136.5 660.1 1139.0 660.1 1141.5 659.8C1144.0 659.4 1146.5 658.6 1149.0 657.8C1151.5 657.0 1154.0 656.0 1156.5 655.0C1159.0 654.1 1161.7 652.8 1164.0 652.0C1166.3 651.1 1168.2 649.8 1170.2 649.8C1172.3 649.8 1174.2 650.6 1176.5 652.1C1178.8 653.7 1181.7 656.5 1184.0 659.3C1186.3 662.0 1188.2 665.2 1190.2 668.8C1192.3 672.5 1194.2 676.9 1196.5 681.2C1198.8 685.5 1201.5 690.5 1204.0 694.5C1206.5 698.5 1209.0 702.1 1211.5 705.2C1214.0 708.3 1216.5 710.9 1219.0 713.3C1221.5 715.8 1224.0 717.7 1226.5 720.0C1229.0 722.2 1231.5 724.0 1234.0 726.9C1236.5 729.7 1239.0 734.2 1241.5 737.3C1244.0 740.4 1246.7 743.6 1249.0 745.5C1251.3 747.5 1253.2 748.1 1255.2 748.8C1257.3 749.5 1259.2 749.6 1261.5 749.8C1263.8 749.9 1266.5 749.9 1269.0 749.6C1271.5 749.4 1274.0 748.7 1276.5 748.3C1279.0 747.9 1281.5 747.6 1284.0 747.0C1286.5 746.3 1289.0 745.8 1291.5 744.6C1294.0 743.4 1296.5 742.0 1299.0 739.9C1301.5 737.7 1304.0 734.4 1306.5 731.5C1309.0 728.6 1311.5 725.1 1314.0 722.5C1316.5 719.8 1319.0 717.6 1321.5 715.6C1324.0 713.6 1326.5 711.9 1329.0 710.7C1331.5 709.5 1334.0 708.8 1336.5 708.4C1339.0 708.0 1341.1 708.1 1344.0 708.1C1346.9 708.2 1351.1 708.6 1354.0 708.6C1356.9 708.6 1359.0 708.7 1361.5 708.2C1364.0 707.8 1366.5 706.9 1369.0 706.0C1371.5 705.1 1374.0 703.6 1376.5 702.7C1379.0 701.9 1382.4 701.4 1384.0 701.1C1385.6 700.8 1384.4 700.2 1386.0 701.0C1387.6 701.8 1391.0 704.0 1393.5 705.9C1396.0 707.9 1398.5 710.8 1401.0 712.9C1403.5 715.0 1406.0 716.9 1408.5 718.4C1411.0 719.9 1413.5 721.1 1416.0 721.8C1418.5 722.5 1421.0 722.6 1423.5 722.7C1426.0 722.9 1428.5 722.9 1431.0 722.8C1433.5 722.8 1436.0 722.3 1438.5 722.4C1441.0 722.5 1443.5 722.8 1446.0 723.4C1448.5 723.9 1451.0 724.7 1453.5 725.7C1456.0 726.8 1458.5 728.2 1461.0 729.4C1463.5 730.7 1466.0 732.2 1468.5 733.3C1471.0 734.4 1473.5 735.3 1476.0 736.0C1478.5 736.8 1481.0 737.5 1483.5 738.0C1486.0 738.4 1488.5 738.6 1491.0 738.7C1493.5 738.8 1496.0 738.8 1498.5 738.3C1501.0 737.9 1503.5 736.9 1506.0 736.1C1508.5 735.3 1511.0 734.5 1513.5 733.5C1516.0 732.6 1518.5 731.4 1521.0 730.5C1523.5 729.6 1526.0 728.9 1528.5 728.3C1531.0 727.7 1533.5 727.3 1536.0 726.9C1538.5 726.4 1541.0 725.9 1543.5 725.6C1546.0 725.3 1548.5 725.0 1551.0 725.0C1553.5 724.9 1556.0 725.1 1558.5 725.3C1561.0 725.5 1563.5 726.0 1566.0 726.3C1568.5 726.5 1571.2 726.6 1573.5 726.6C1575.8 726.6 1577.9 726.8 1579.8 726.3C1581.6 725.7 1582.9 725.1 1584.8 723.2C1586.6 721.4 1588.7 718.5 1591.0 715.0C1593.3 711.6 1596.0 706.7 1598.5 702.5C1601.0 698.2 1603.7 693.5 1606.0 689.6C1608.3 685.7 1610.4 682.2 1612.2 679.2C1614.1 676.3 1616.4 673.2 1617.2 672.0" stroke="#ff4500" stroke-width="1" fill="none" shape-rendering="crispEdges"/>
<circle cx="97.5" cy="709.5" r="2.9" fill="#ff0000"/>
<circle cx="182.5" cy="709.5" r="2.9" fill="#ff0000"/>
<circle cx="207.5" cy="689.8" r="2.9" fill="#ff0000"/>
<circle cx="252.5" cy="696.5" r="2.9" fill="#ff0000"/>
<circle cx="317.5" cy="724.8" r="2.9" fill="#ff0000"/>
<circle cx="407.5" cy="779.2" r="2.9" fill="#ff0000"/>
<circle cx="487.5" cy="706.2" r="2.9" fill="#ff0000"/>
<circle cx="557.5" cy="722.5" r="2.9" fill="#ff0000"/>
<circle cx="592.5" cy="735.8" r="2.9" fill="#ff0000"/>
<circle cx="622.5" cy="764.8" r="2.9" fill="#ff0000"/>
<circle cx="662.5" cy="781.8" r="2.9" fill="#ff0000"/>
<circle cx="742.5" cy="737.5" r="2.9" fill="#ff0000"/>
<circle cx="802.5" cy="679.2" r="2.9" fill="#ff0000"/>
<circle cx="907.5" cy="685.8" r="2.9" fill="#ff0000"/>
<circle cx="957.8" cy="712.0" r="2.9" fill="#ff0000"/>
<circle cx="997.5" cy="697.5" r="2.9" fill="#ff0000"/>
<circle cx="1062.8" cy="637.5" r="2.9" fill="#ff0000"/>
<circle cx="1117.5" cy="651.5" r="2.9" fill="#ff0000"/>
<circle cx="1172.5" cy="648.2" r="2.9" fill="#ff0000"/>
<circle cx="1232.5" cy="723.8" r="2.9" fill="#ff0000"/>
<circle cx="1282.5" cy="743.8" r="2.9" fill="#ff0000"/>
<circle cx="1322.5" cy="711.0" r="2.9" fill="#ff0000"/>
<circle cx="1382.5" cy="698.0" r="2.9" fill="#ff0000"/>
<circle cx="1442.5" cy="720.2" r="2.9" fill="#ff0000"/>
<circle cx="1522.5" cy="727.2" r="2.9" fill="#ff0000"/>
<circle cx="1607.5" cy="684.2" r="2.9" fill="#ff0000"/>
<circle cx="127.5" cy="730.0" r="2.9" fill="#00ff00"/>
<circle cx="197.5" cy="708.0" r="2.9" fill="#00ff00"/>
<circle cx="232.5" cy="700.8" r="2.9" fill="#00ff00"/>
<circle cx="282.5" cy="723.2" r="2.9" fill="#00ff00"/>
<circle cx="357.5" cy="793.5" r="2.9" fill="#00ff00"/>
<circle cx="442.5" cy="757.5" r="2.9" fill="#00ff00"/>
<circle cx="522.5" cy="722.0" r="2.9" fill="#00ff00"/>
<circle cx="577.5" cy="738.5" r="2.9" fill="#00ff00"/>
<circle cx="612.5" cy="763.5" r="2.9" fill="#00ff00"/>
<circle cx="632.5" cy="784.0" r="2.9" fill="#00ff00"/>
<circle cx="682.5" cy="795.0" r="2.9" fill="#00ff00"/>
<circle cx="772.5" cy="726.8" r="2.9" fill="#00ff00"/>
<circle cx="847.5" cy="686.8" r="2.9" fill="#00ff00"/>
<circle cx="927.5" cy="712.5" r="2.9" fill="#00ff00"/>
<circle cx="962.5" cy="720.5" r="2.9" fill="#00ff00"/>
<circle cx="1007.5" cy="700.5" r="2.9" fill="#00ff00"/>
<circle cx="1112.5" cy="655.0" r="2.9" fill="#00ff00"/>
<circle cx="1122.5" cy="663.8" r="2.9" fill="#00ff00"/>
<circle cx="1207.5" cy="708.0" r="2.9" fill="#00ff00"/>
<circle cx="1247.5" cy="749.0" r="2.9" fill="#00ff00"/>
<circle cx="1287.5" cy="750.2" r="2.9" fill="#00ff00"/>
<circle cx="1357.5" cy="714.0" r="2.9" fill="#00ff00"/>
<circle cx="1405.5" cy="723.5" r="2.9" fill="#00ff00"/>
<circle cx="1472.5" cy="739.8" r="2.9" fill="#00ff00"/>
<circle cx="1577.5" cy="732.0" r="2.9" fill="#00ff00"/>
<rect x="787" y="58" width="124" height="33" rx="4" fill="#eef2f5"/>
<rect x="920" y="58" width="124" height="33" rx="4" fill="#e3e8eb"/>
<text x="794" y="81" font-size="20" font-weight="bold" fill="#fff" opacity="0.85">5278.2</text>
<text x="857" y="82" font-size="12.5" font-weight="bold" fill="#fff" opacity="0.85">7</text>
<text x="965.5" y="81" font-size="20" font-weight="bold" fill="#fff" opacity="0.9">5279.9</text>
<text x="1027.5" y="82" font-size="12.5" font-weight="bold" fill="#fff" opacity="0.9">5</text>
<path d="M884 72.7 h7 v-4 l7 6 l-7 6 v-4 h-7z" fill="#fff"/>
<path d="M930 72.7 h7 v-4 l7 6 l-7 6 v-4 h-7z" fill="#fff"/>
<rect x="787" y="100" width="66" height="9" rx="4.5" fill="#f4865f"/>
<rect x="857" y="100" width="188" height="9" rx="4.5" fill="#4db07c"/>
<text x="1765.3" y="83.8" font-size="18" fill="#000" stroke="#000" stroke-width="0.25">5325.0</text>
<text x="1821" y="84.7" font-size="12.5" fill="#201040" textLength="5.4" lengthAdjust="spacingAndGlyphs">0</text>
<text x="1765.3" y="108.8" font-size="18" fill="#000" stroke="#000" stroke-width="0.25">5300.0</text>
<text x="1821" y="109.7" font-size="12.5" fill="#201040" textLength="5.4" lengthAdjust="spacingAndGlyphs">0</text>
<text x="1821" y="133.7" font-size="12.5" fill="#201040" textLength="5.4" lengthAdjust="spacingAndGlyphs">0</text>
<text x="1765.3" y="156.8" font-size="18" fill="#000" stroke="#000" stroke-width="0.25">5250.0</text>
<text x="1821" y="157.7" font-size="12.5" fill="#201040" textLength="5.4" lengthAdjust="spacingAndGlyphs">0</text>
<text x="1765.3" y="180.8" font-size="18" fill="#000" stroke="#000" stroke-width="0.25">5225.0</text>
<text x="1821" y="181.7" font-size="12.5" fill="#201040" textLength="5.4" lengthAdjust="spacingAndGlyphs">0</text>
<text x="1765.3" y="204.8" font-size="18" fill="#000" stroke="#000" stroke-width="0.25">5200.0</text>
<text x="1821" y="205.7" font-size="12.5" fill="#201040" textLength="5.4" lengthAdjust="spacingAndGlyphs">0</text>
<text x="1765.3" y="228.8" font-size="18" fill="#000" stroke="#000" stroke-width="0.25">5175.0</text>
<text x="1821" y="229.7" font-size="12.5" fill="#201040" textLength="5.4" lengthAdjust="spacingAndGlyphs">0</text>
<text x="1765.3" y="252.8" font-size="18" fill="#000" stroke="#000" stroke-width="0.25">5150.0</text>
<text x="1821" y="253.7" font-size="12.5" fill="#201040" textLength="5.4" lengthAdjust="spacingAndGlyphs">0</text>
<text x="1765.3" y="277.8" font-size="18" fill="#000" stroke="#000" stroke-width="0.25">5125.0</text>
<text x="1821" y="278.7" font-size="12.5" fill="#201040" textLength="5.4" lengthAdjust="spacingAndGlyphs">0</text>
<text x="1765.3" y="301.8" font-size="18" fill="#000" stroke="#000" stroke-width="0.25">5100.0</text>
<text x="1821" y="302.7" font-size="12.5" fill="#201040" textLength="5.4" lengthAdjust="spacingAndGlyphs">0</text>
<text x="1765.3" y="325.8" font-size="18" fill="#000" stroke="#000" stroke-width="0.25">5075.0</text>
<text x="1821" y="326.7" font-size="12.5" fill="#201040" textLength="5.4" lengthAdjust="spacingAndGlyphs">0</text>
<text x="1765.3" y="349.8" font-size="18" fill="#000" stroke="#000" stroke-width="0.25">5050.0</text>
<text x="1821" y="350.7" font-size="12.5" fill="#201040" textLength="5.4" lengthAdjust="spacingAndGlyphs">0</text>
<text x="1765.3" y="373.8" font-size="18" fill="#000" stroke="#000" stroke-width="0.25">5025.0</text>
<text x="1821" y="374.7" font-size="12.5" fill="#201040" textLength="5.4" lengthAdjust="spacingAndGlyphs">0</text>
<text x="1765.3" y="397.8" font-size="18" fill="#000" stroke="#000" stroke-width="0.25">5000.0</text>
<text x="1821" y="398.7" font-size="12.5" fill="#201040" textLength="5.4" lengthAdjust="spacingAndGlyphs">0</text>
<text x="1765.3" y="422.8" font-size="18" fill="#000" stroke="#000" stroke-width="0.25">4975.0</text>
<text x="1821" y="423.7" font-size="12.5" fill="#201040" textLength="5.4" lengthAdjust="spacingAndGlyphs">0</text>
<text x="1765.3" y="446.8" font-size="18" fill="#000" stroke="#000" stroke-width="0.25">4950.0</text>
<text x="1821" y="447.7" font-size="12.5" fill="#201040" textLength="5.4" lengthAdjust="spacingAndGlyphs">0</text>
<text x="1765.3" y="470.8" font-size="18" fill="#000" stroke="#000" stroke-width="0.25">4925.0</text>
<text x="1821" y="471.7" font-size="12.5" fill="#201040" textLength="5.4" lengthAdjust="spacingAndGlyphs">0</text>
<text x="1765.3" y="494.8" font-size="18" fill="#000" stroke="#000" stroke-width="0.25">4900.0</text>
<text x="1821" y="495.7" font-size="12.5" fill="#201040" textLength="5.4" lengthAdjust="spacingAndGlyphs">0</text>
<text x="1765.3" y="518.8" font-size="18" fill="#000" stroke="#000" stroke-width="0.25">4875.0</text>
<text x="1821" y="519.7" font-size="12.5" fill="#201040" textLength="5.4" lengthAdjust="spacingAndGlyphs">0</text>
<text x="1765.3" y="542.8" font-size="18" fill="#000" stroke="#000" stroke-width="0.25">4850.0</text>
<text x="1821" y="543.7" font-size="12.5" fill="#201040" textLength="5.4" lengthAdjust="spacingAndGlyphs">0</text>
<text x="1765.3" y="566.8" font-size="18" fill="#000" stroke="#000" stroke-width="0.25">4825.0</text>
<text x="1821" y="567.7" font-size="12.5" fill="#201040" textLength="5.4" lengthAdjust="spacingAndGlyphs">0</text>
<path d="M1746.5 121 L1758 109.5 H1827 L1830 112.5 V130 L1827 133 H1758 Z" fill="#f05a1e"/>
<path d="M1746.5 120.6 L1758 109.5 H1827 L1830 112" stroke="#0a7d38" fill="none" stroke-width="1"/>
<text x="1758.6" y="127.6" font-size="18" fill="#fff">5278.27</text>
<rect x="1797" y="67" width="33" height="32.6" rx="5" fill="#c8c8c8"/>
<path d="M1814.7 76 H1804.5 V93.5 H1822 V83 M1824.6 73.5 L1811 86.8 M1811 82.2 V86.8 H1815.8" stroke="#444" stroke-width="1.7" fill="none"/>
<text transform="translate(1731.8 154.3) rotate(-90)" font-size="18.3" fill="#000">1000 pips</text>
<text x="62.5" y="597.6" font-size="18" text-anchor="middle" fill="#000" stroke="#000" stroke-width="0.25">10 Feb 08:00</text>
<text x="257.5" y="597.6" font-size="18" text-anchor="middle" fill="#000" stroke="#000" stroke-width="0.25">12 Feb 01:00</text>
<text x="452.5" y="597.6" font-size="18" text-anchor="middle" fill="#000" stroke="#000" stroke-width="0.25">13 Feb 17:00</text>
<text x="647.5" y="597.6" font-size="18" text-anchor="middle" fill="#000" stroke="#000" stroke-width="0.25">17 Feb 12:00</text>
<text x="842.5" y="597.6" font-size="18" text-anchor="middle" fill="#000" stroke="#000" stroke-width="0.25">19 Feb 05:00</text>
<text x="1037.5" y="597.6" font-size="18" text-anchor="middle" fill="#000" stroke="#000" stroke-width="0.25">20 Feb 21:00</text>
<text x="1232.5" y="597.6" font-size="18" text-anchor="middle" fill="#000" stroke="#000" stroke-width="0.25">24 Feb 14:00</text>
<text x="1427.5" y="597.6" font-size="18" text-anchor="middle" fill="#000" stroke="#000" stroke-width="0.25">26 Feb 07:00</text>
<text x="1622.5" y="597.6" font-size="18" text-anchor="middle" fill="#000" stroke="#000" stroke-width="0.25">2 Mar 00:00</text>
<rect x="9" y="578" width="11" height="24" fill="#d5dde1"/>
<path d="M1581 560.5 H1608.5 L1617 551.8 L1625.5 560.5 H1640 Q1642.5 560.5 1642.5 563 V580 Q1642.5 582.5 1640 582.5 H1581 Q1578.5 582.5 1578.5 580 V563 Q1578.5 560.5 1581 560.5Z" fill="#fff" stroke="#000" stroke-width="1.6"/>
<rect x="1583" y="565" width="1" height="1" fill="#777"/>
<rect x="1585" y="565" width="1" height="1" fill="#777"/>
<rect x="1587" y="565" width="1" height="1" fill="#777"/>
<rect x="1583" y="567" width="1" height="1" fill="#777"/>
<rect x="1585" y="567" width="1" height="1" fill="#777"/>
<rect x="1587" y="567" width="1" height="1" fill="#777"/>
<rect x="1583" y="569" width="1" height="1" fill="#777"/>
<rect x="1585" y="569" width="1" height="1" fill="#777"/>
<rect x="1587" y="569" width="1" height="1" fill="#777"/>
<rect x="1583" y="571" width="1" height="1" fill="#777"/>
<rect x="1585" y="571" width="1" height="1" fill="#777"/>
<rect x="1587" y="571" width="1" height="1" fill="#777"/>
<rect x="1583" y="573" width="1" height="1" fill="#777"/>
<rect x="1585" y="573" width="1" height="1" fill="#777"/>
<rect x="1587" y="573" width="1" height="1" fill="#777"/>
<rect x="1583" y="575" width="1" height="1" fill="#777"/>
<rect x="1585" y="575" width="1" height="1" fill="#777"/>
<rect x="1587" y="575" width="1" height="1" fill="#777"/>
<rect x="1583" y="577" width="1" height="1" fill="#777"/>
<rect x="1585" y="577" width="1" height="1" fill="#777"/>
<rect x="1587" y="577" width="1" height="1" fill="#777"/>
<text x="1595.5" y="577.6" font-size="17.5" fill="#000">00:00</text>
<text x="30" y="630.5" font-size="18.5" letter-spacing="0.2" fill="#555">Pulse Momentum Engine (13, 25, 0, 0, 0.08,…</text>
<text x="428" y="630.5" font-size="16.5" fill="#1e90ff">28.6…</text>
<text x="485" y="630.5" font-size="16.5" fill="#ff4500">28.8…</text>
<text x="542" y="630.5" font-size="16.5" fill="#000">25.0…</text>
<text x="600" y="630.5" font-size="16.5" fill="#000">-25.…</text>
<text x="1765" y="738.2" font-size="18.2" fill="#000">0.0000</text>
<rect x="1797" y="613" width="33" height="32.6" rx="5" fill="#c8c8c8"/>
<path d="M1805.5 621.5 L1821.5 637.5 M1821.5 621.5 L1805.5 637.5" stroke="#fff" stroke-width="2.2" fill="none"/>
<path d="M18 856.5 L29 850.5 V862.5Z" fill="#aebdc6"/>
<path d="M1841 856.5 L1830 850.5 V862.5Z" fill="#aebdc6"/>
<rect x="1307" y="851" width="520" height="11" rx="5.5" fill="#b0bfc8"/>
</svg></body></html>
